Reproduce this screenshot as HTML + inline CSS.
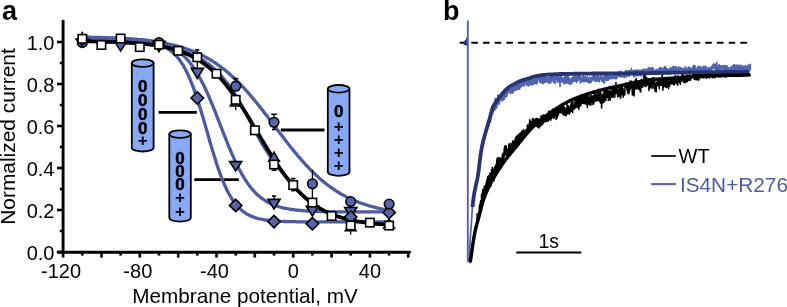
<!DOCTYPE html>
<html><head><meta charset="utf-8"><style>
html,body{margin:0;padding:0;background:#fff;}
body{width:787px;height:307px;overflow:hidden;font-family:"Liberation Sans",sans-serif;}
svg{display:block;will-change:transform;}
</style></head><body>
<svg width="787" height="307" viewBox="0 0 787 307">
<text x="2" y="20" font-size="27" font-weight="bold" font-family="Liberation Sans, sans-serif">a</text>
<line x1="63.1" y1="21.2" x2="63.1" y2="252" stroke="#000" stroke-width="2.9" stroke-linecap="round"/>
<line x1="58.2" y1="252.3" x2="409.5" y2="252.3" stroke="#000" stroke-width="2.9" stroke-linecap="round"/>
<line x1="57" y1="252" x2="63" y2="252" stroke="#000" stroke-width="2.6"/>
<line x1="59.8" y1="231" x2="63" y2="231" stroke="#000" stroke-width="2.6"/>
<line x1="57" y1="210" x2="63" y2="210" stroke="#000" stroke-width="2.6"/>
<line x1="59.8" y1="189" x2="63" y2="189" stroke="#000" stroke-width="2.6"/>
<line x1="57" y1="168" x2="63" y2="168" stroke="#000" stroke-width="2.6"/>
<line x1="59.8" y1="147" x2="63" y2="147" stroke="#000" stroke-width="2.6"/>
<line x1="57" y1="126" x2="63" y2="126" stroke="#000" stroke-width="2.6"/>
<line x1="59.8" y1="105" x2="63" y2="105" stroke="#000" stroke-width="2.6"/>
<line x1="57" y1="84" x2="63" y2="84" stroke="#000" stroke-width="2.6"/>
<line x1="59.8" y1="63" x2="63" y2="63" stroke="#000" stroke-width="2.6"/>
<line x1="57" y1="42" x2="63" y2="42" stroke="#000" stroke-width="2.6"/>
<line x1="63.1" y1="252" x2="63.1" y2="257.6" stroke="#000" stroke-width="2.6"/>
<line x1="82.3" y1="252" x2="82.3" y2="255.6" stroke="#000" stroke-width="2.6"/>
<line x1="101.5" y1="252" x2="101.5" y2="257.6" stroke="#000" stroke-width="2.6"/>
<line x1="120.6" y1="252" x2="120.6" y2="255.6" stroke="#000" stroke-width="2.6"/>
<line x1="139.8" y1="252" x2="139.8" y2="257.6" stroke="#000" stroke-width="2.6"/>
<line x1="159.0" y1="252" x2="159.0" y2="255.6" stroke="#000" stroke-width="2.6"/>
<line x1="178.2" y1="252" x2="178.2" y2="257.6" stroke="#000" stroke-width="2.6"/>
<line x1="197.3" y1="252" x2="197.3" y2="255.6" stroke="#000" stroke-width="2.6"/>
<line x1="216.5" y1="252" x2="216.5" y2="257.6" stroke="#000" stroke-width="2.6"/>
<line x1="235.7" y1="252" x2="235.7" y2="255.6" stroke="#000" stroke-width="2.6"/>
<line x1="254.8" y1="252" x2="254.8" y2="257.6" stroke="#000" stroke-width="2.6"/>
<line x1="274.0" y1="252" x2="274.0" y2="255.6" stroke="#000" stroke-width="2.6"/>
<line x1="293.2" y1="252" x2="293.2" y2="257.6" stroke="#000" stroke-width="2.6"/>
<line x1="312.4" y1="252" x2="312.4" y2="255.6" stroke="#000" stroke-width="2.6"/>
<line x1="331.6" y1="252" x2="331.6" y2="257.6" stroke="#000" stroke-width="2.6"/>
<line x1="350.7" y1="252" x2="350.7" y2="255.6" stroke="#000" stroke-width="2.6"/>
<line x1="369.9" y1="252" x2="369.9" y2="257.6" stroke="#000" stroke-width="2.6"/>
<line x1="389.1" y1="252" x2="389.1" y2="255.6" stroke="#000" stroke-width="2.6"/>
<line x1="408.2" y1="252" x2="408.2" y2="257.6" stroke="#000" stroke-width="2.6"/>
<text x="54.5" y="260.0" font-size="20" text-anchor="end" font-family="Liberation Sans, sans-serif">0.0</text>
<text x="54.5" y="218.0" font-size="20" text-anchor="end" font-family="Liberation Sans, sans-serif">0.2</text>
<text x="54.5" y="176.0" font-size="20" text-anchor="end" font-family="Liberation Sans, sans-serif">0.4</text>
<text x="54.5" y="134.0" font-size="20" text-anchor="end" font-family="Liberation Sans, sans-serif">0.6</text>
<text x="54.5" y="92.0" font-size="20" text-anchor="end" font-family="Liberation Sans, sans-serif">0.8</text>
<text x="54.5" y="50.0" font-size="20" text-anchor="end" font-family="Liberation Sans, sans-serif">1.0</text>
<text x="61.1" y="277.5" font-size="20" text-anchor="middle" font-family="Liberation Sans, sans-serif">-120</text>
<text x="137.8" y="277.5" font-size="20" text-anchor="middle" font-family="Liberation Sans, sans-serif">-80</text>
<text x="214.5" y="277.5" font-size="20" text-anchor="middle" font-family="Liberation Sans, sans-serif">-40</text>
<text x="293.2" y="277.5" font-size="20" text-anchor="middle" font-family="Liberation Sans, sans-serif">0</text>
<text x="369.9" y="277.5" font-size="20" text-anchor="middle" font-family="Liberation Sans, sans-serif">40</text>
<text x="245" y="302.6" font-size="20.7" text-anchor="middle" font-family="Liberation Sans, sans-serif">Membrane potential, mV</text>
<text transform="translate(14.6,136.5) rotate(-90)" x="0" y="0" font-size="20.9" text-anchor="middle" font-family="Liberation Sans, sans-serif">Normalized current</text>
<path d="M131.8,63.099999999999994 L131.8,147.7 A10.899999999999991,3.8 0 0 0 153.6,147.7 L153.6,63.099999999999994" fill="#88a8f8" stroke="#000" stroke-width="1.8"/><ellipse cx="142.7" cy="63.099999999999994" rx="10.899999999999991" ry="3.8" fill="#88a8f8" stroke="#000" stroke-width="1.8"/><text x="142.7" y="91.6" font-size="17" font-weight="bold" text-anchor="middle" stroke="#000" stroke-width="0.5" font-family="Liberation Sans, sans-serif">0</text><text x="142.7" y="105.8" font-size="17" font-weight="bold" text-anchor="middle" stroke="#000" stroke-width="0.5" font-family="Liberation Sans, sans-serif">0</text><text x="142.7" y="120.0" font-size="17" font-weight="bold" text-anchor="middle" stroke="#000" stroke-width="0.5" font-family="Liberation Sans, sans-serif">0</text><text x="142.7" y="134.2" font-size="17" font-weight="bold" text-anchor="middle" stroke="#000" stroke-width="0.5" font-family="Liberation Sans, sans-serif">0</text><text x="142.7" y="146.3" font-size="17" font-weight="bold" text-anchor="middle" font-family="Liberation Sans, sans-serif">+</text>
<path d="M169.3,134.10000000000002 L169.3,217.79999999999998 A10.75,3.8 0 0 0 190.8,217.79999999999998 L190.8,134.10000000000002" fill="#88a8f8" stroke="#000" stroke-width="1.8"/><ellipse cx="180.05" cy="134.10000000000002" rx="10.75" ry="3.8" fill="#88a8f8" stroke="#000" stroke-width="1.8"/><text x="180.05" y="163.5" font-size="17" font-weight="bold" text-anchor="middle" stroke="#000" stroke-width="0.5" font-family="Liberation Sans, sans-serif">0</text><text x="180.05" y="176.8" font-size="17" font-weight="bold" text-anchor="middle" stroke="#000" stroke-width="0.5" font-family="Liberation Sans, sans-serif">0</text><text x="180.05" y="190.1" font-size="17" font-weight="bold" text-anchor="middle" stroke="#000" stroke-width="0.5" font-family="Liberation Sans, sans-serif">0</text><text x="180.05" y="203.4" font-size="17" font-weight="bold" text-anchor="middle" font-family="Liberation Sans, sans-serif">+</text><text x="180.05" y="216.7" font-size="17" font-weight="bold" text-anchor="middle" font-family="Liberation Sans, sans-serif">+</text>
<path d="M327.8,88.8 L327.8,172.0 A10.849999999999994,3.8 0 0 0 349.5,172.0 L349.5,88.8" fill="#88a8f8" stroke="#000" stroke-width="1.8"/><ellipse cx="338.65" cy="88.8" rx="10.849999999999994" ry="3.8" fill="#88a8f8" stroke="#000" stroke-width="1.8"/><text x="338.65" y="117.0" font-size="17" font-weight="bold" text-anchor="middle" stroke="#000" stroke-width="0.5" font-family="Liberation Sans, sans-serif">0</text><text x="338.65" y="131.6" font-size="17" font-weight="bold" text-anchor="middle" font-family="Liberation Sans, sans-serif">+</text><text x="338.65" y="144.8" font-size="17" font-weight="bold" text-anchor="middle" font-family="Liberation Sans, sans-serif">+</text><text x="338.65" y="158.0" font-size="17" font-weight="bold" text-anchor="middle" font-family="Liberation Sans, sans-serif">+</text><text x="338.65" y="171.2" font-size="17" font-weight="bold" text-anchor="middle" font-family="Liberation Sans, sans-serif">+</text>
<line x1="158.6" y1="112.4" x2="196.8" y2="112.4" stroke="#000" stroke-width="2.8"/>
<line x1="194.3" y1="179.7" x2="238.8" y2="179.7" stroke="#000" stroke-width="2.8"/>
<line x1="280.8" y1="130" x2="324.5" y2="130" stroke="#000" stroke-width="2.8"/>
<polyline points="82.3,37.1 83.8,37.1 85.4,37.1 86.9,37.2 88.4,37.2 90.0,37.2 91.5,37.3 93.1,37.3 94.6,37.3 96.2,37.4 97.7,37.4 99.2,37.5 100.8,37.5 102.3,37.6 103.9,37.6 105.4,37.7 106.9,37.7 108.5,37.8 110.0,37.8 111.6,37.9 113.1,38.0 114.7,38.0 116.2,38.1 117.7,38.2 119.3,38.3 120.8,38.4 122.4,38.4 123.9,38.5 125.4,38.6 127.0,38.7 128.5,38.8 130.1,38.9 131.6,39.1 133.2,39.2 134.7,39.3 136.2,39.4 137.8,39.6 139.3,39.7 140.9,39.9 142.4,40.0 143.9,40.2 145.5,40.4 147.0,40.5 148.6,40.7 150.1,40.9 151.7,41.1 153.2,41.3 154.7,41.5 156.3,41.8 157.8,42.0 159.4,42.3 160.9,42.5 162.4,42.8 164.0,43.1 165.5,43.4 167.1,43.7 168.6,44.0 170.2,44.3 171.7,44.7 173.2,45.0 174.8,45.4 176.3,45.8 177.9,46.2 179.4,46.7 180.9,47.1 182.5,47.6 184.0,48.0 185.6,48.6 187.1,49.1 188.7,49.6 190.2,50.2 191.7,50.8 193.3,51.4 194.8,52.0 196.4,52.7 197.9,53.4 199.4,54.1 201.0,54.8 202.5,55.6 204.1,56.3 205.6,57.2 207.2,58.0 208.7,58.9 210.2,59.8 211.8,60.7 213.3,61.7 214.9,62.7 216.4,63.7 217.9,64.8 219.5,65.9 221.0,67.0 222.6,68.2 224.1,69.4 225.7,70.7 227.2,71.9 228.7,73.3 230.3,74.6 231.8,76.0 233.4,77.4 234.9,78.9 236.4,80.3 238.0,81.9 239.5,83.4 241.1,85.0 242.6,86.7 244.2,88.3 245.7,90.0 247.2,91.7 248.8,93.5 250.3,95.3 251.9,97.1 253.4,98.9 254.9,100.8 256.5,102.7 258.0,104.6 259.6,106.5 261.1,108.5 262.7,110.4 264.2,112.4 265.7,114.4 267.3,116.4 268.8,118.5 270.4,120.5 271.9,122.5 273.4,124.6 275.0,126.6 276.5,128.6 278.1,130.7 279.6,132.7 281.2,134.7 282.7,136.8 284.2,138.8 285.8,140.8 287.3,142.8 288.9,144.7 290.4,146.7 291.9,148.6 293.5,150.5 295.0,152.4 296.6,154.2 298.1,156.1 299.7,157.9 301.2,159.7 302.7,161.4 304.3,163.1 305.8,164.8 307.4,166.5 308.9,168.1 310.4,169.7 312.0,171.2 313.5,172.7 315.1,174.2 316.6,175.7 318.2,177.1 319.7,178.5 321.2,179.8 322.8,181.1 324.3,182.4 325.9,183.6 327.4,184.8 328.9,186.0 330.5,187.1 332.0,188.2 333.6,189.2 335.1,190.3 336.7,191.3 338.2,192.2 339.7,193.2 341.3,194.1 342.8,194.9 344.4,195.8 345.9,196.6 347.4,197.4 349.0,198.1 350.5,198.9 352.1,199.6 353.6,200.2 355.2,200.9 356.7,201.5 358.2,202.1 359.8,202.7 361.3,203.3 362.9,203.8 364.4,204.3 365.9,204.8 367.5,205.3 369.0,205.8 370.6,206.2 372.1,206.6 373.7,207.0 375.2,207.4 376.7,207.8 378.3,208.2 379.8,208.5 381.4,208.8 382.9,209.2 384.4,209.5 386.0,209.8 387.5,210.0 389.1,210.3" fill="none" stroke="#4e5b9f" stroke-width="3.3" stroke-linejoin="round" stroke-linecap="round"/>
<polyline points="82.3,38.3 83.8,38.3 85.4,38.3 86.9,38.3 88.4,38.3 90.0,38.3 91.5,38.3 93.1,38.3 94.6,38.3 96.2,38.3 97.7,38.3 99.2,38.4 100.8,38.4 102.3,38.4 103.9,38.4 105.4,38.4 106.9,38.4 108.5,38.4 110.0,38.5 111.6,38.5 113.1,38.5 114.7,38.5 116.2,38.6 117.7,38.6 119.3,38.6 120.8,38.7 122.4,38.7 123.9,38.8 125.4,38.8 127.0,38.9 128.5,39.0 130.1,39.0 131.6,39.1 133.2,39.2 134.7,39.3 136.2,39.4 137.8,39.5 139.3,39.6 140.9,39.8 142.4,39.9 143.9,40.1 145.5,40.2 147.0,40.4 148.6,40.6 150.1,40.9 151.7,41.1 153.2,41.4 154.7,41.7 156.3,42.0 157.8,42.4 159.4,42.7 160.9,43.2 162.4,43.6 164.0,44.1 165.5,44.7 167.1,45.3 168.6,45.9 170.2,46.6 171.7,47.4 173.2,48.2 174.8,49.1 176.3,50.1 177.9,51.1 179.4,52.2 180.9,53.5 182.5,54.8 184.0,56.2 185.6,57.8 187.1,59.4 188.7,61.2 190.2,63.1 191.7,65.1 193.3,67.2 194.8,69.5 196.4,71.9 197.9,74.5 199.4,77.2 201.0,80.0 202.5,83.0 204.1,86.1 205.6,89.3 207.2,92.7 208.7,96.2 210.2,99.8 211.8,103.5 213.3,107.2 214.9,111.1 216.4,115.0 217.9,118.9 219.5,122.9 221.0,126.9 222.6,130.8 224.1,134.8 225.7,138.7 227.2,142.5 228.7,146.3 230.3,150.0 231.8,153.6 233.4,157.1 234.9,160.5 236.4,163.7 238.0,166.9 239.5,169.9 241.1,172.7 242.6,175.4 244.2,178.0 245.7,180.4 247.2,182.7 248.8,184.9 250.3,186.9 251.9,188.8 253.4,190.6 254.9,192.2 256.5,193.8 258.0,195.2 259.6,196.6 261.1,197.8 262.7,198.9 264.2,200.0 265.7,201.0 267.3,201.9 268.8,202.7 270.4,203.5 271.9,204.2 273.4,204.8 275.0,205.4 276.5,206.0 278.1,206.5 279.6,207.0 281.2,207.4 282.7,207.8 284.2,208.1 285.8,208.4 287.3,208.7 288.9,209.0 290.4,209.3 291.9,209.5 293.5,209.7 295.0,209.9 296.6,210.1 298.1,210.2 299.7,210.4 301.2,210.5 302.7,210.6 304.3,210.8 305.8,210.9 307.4,211.0 308.9,211.0 310.4,211.1 312.0,211.2 313.5,211.3 315.1,211.3 316.6,211.4 318.2,211.4 319.7,211.5 321.2,211.5 322.8,211.5 324.3,211.6 325.9,211.6 327.4,211.6 328.9,211.7 330.5,211.7 332.0,211.7 333.6,211.7 335.1,211.7 336.7,211.8 338.2,211.8 339.7,211.8 341.3,211.8 342.8,211.8 344.4,211.8 345.9,211.8 347.4,211.8 349.0,211.8 350.5,211.9 352.1,211.9 353.6,211.9 355.2,211.9 356.7,211.9 358.2,211.9 359.8,211.9 361.3,211.9 362.9,211.9 364.4,211.9 365.9,211.9 367.5,211.9 369.0,211.9 370.6,211.9 372.1,211.9 373.7,211.9 375.2,211.9 376.7,211.9 378.3,211.9 379.8,211.9 381.4,211.9 382.9,211.9 384.4,211.9 386.0,211.9 387.5,211.9 389.1,211.9" fill="none" stroke="#4e5b9f" stroke-width="3.3" stroke-linejoin="round" stroke-linecap="round"/>
<polyline points="82.3,40.3 83.8,40.3 85.4,40.3 86.9,40.3 88.4,40.3 90.0,40.3 91.5,40.3 93.1,40.3 94.6,40.4 96.2,40.4 97.7,40.4 99.2,40.4 100.8,40.4 102.3,40.4 103.9,40.4 105.4,40.4 106.9,40.4 108.5,40.4 110.0,40.4 111.6,40.4 113.1,40.5 114.7,40.5 116.2,40.5 117.7,40.5 119.3,40.5 120.8,40.6 122.4,40.6 123.9,40.6 125.4,40.7 127.0,40.7 128.5,40.7 130.1,40.8 131.6,40.9 133.2,40.9 134.7,41.0 136.2,41.1 137.8,41.2 139.3,41.3 140.9,41.4 142.4,41.6 143.9,41.7 145.5,41.9 147.0,42.1 148.6,42.3 150.1,42.6 151.7,42.8 153.2,43.2 154.7,43.5 156.3,43.9 157.8,44.4 159.4,44.8 160.9,45.4 162.4,46.0 164.0,46.7 165.5,47.5 167.1,48.4 168.6,49.3 170.2,50.4 171.7,51.6 173.2,52.9 174.8,54.4 176.3,56.0 177.9,57.8 179.4,59.8 180.9,61.9 182.5,64.3 184.0,66.9 185.6,69.7 187.1,72.7 188.7,76.0 190.2,79.6 191.7,83.3 193.3,87.4 194.8,91.6 196.4,96.1 197.9,100.8 199.4,105.7 201.0,110.7 202.5,115.9 204.1,121.2 205.6,126.6 207.2,132.0 208.7,137.4 210.2,142.7 211.8,148.0 213.3,153.1 214.9,158.1 216.4,163.0 217.9,167.6 219.5,172.0 221.0,176.2 222.6,180.1 224.1,183.8 225.7,187.3 227.2,190.5 228.7,193.5 230.3,196.2 231.8,198.7 233.4,201.0 234.9,203.1 236.4,205.1 238.0,206.8 239.5,208.4 241.1,209.8 242.6,211.1 244.2,212.2 245.7,213.3 247.2,214.2 248.8,215.0 250.3,215.8 251.9,216.4 253.4,217.0 254.9,217.6 256.5,218.1 258.0,218.5 259.6,218.9 261.1,219.2 262.7,219.5 264.2,219.8 265.7,220.0 267.3,220.2 268.8,220.4 270.4,220.6 271.9,220.7 273.4,220.9 275.0,221.0 276.5,221.1 278.1,221.2 279.6,221.3 281.2,221.4 282.7,221.4 284.2,221.5 285.8,221.5 287.3,221.6 288.9,221.6 290.4,221.7 291.9,221.7 293.5,221.7 295.0,221.7 296.6,221.8 298.1,221.8 299.7,221.8 301.2,221.8 302.7,221.8 304.3,221.8 305.8,221.9 307.4,221.9 308.9,221.9 310.4,221.9 312.0,221.9 313.5,221.9 315.1,221.9 316.6,221.9 318.2,221.9 319.7,221.9 321.2,221.9 322.8,221.9 324.3,221.9 325.9,221.9 327.4,221.9 328.9,221.9 330.5,221.9 332.0,221.9 333.6,221.9 335.1,221.9 336.7,221.9 338.2,221.9 339.7,221.9 341.3,221.9 342.8,221.9 344.4,221.9 345.9,221.9 347.4,221.9 349.0,221.9 350.5,221.9 352.1,221.9 353.6,221.9 355.2,221.9 356.7,221.9 358.2,221.9 359.8,221.9 361.3,221.9 362.9,221.9 364.4,221.9 365.9,221.9 367.5,221.9 369.0,221.9 370.6,221.9 372.1,221.9 373.7,221.9 375.2,221.9 376.7,221.9 378.3,221.9 379.8,221.9 381.4,221.9 382.9,221.9 384.4,221.9 386.0,221.9 387.5,221.9 389.1,221.9" fill="none" stroke="#4e5b9f" stroke-width="3.3" stroke-linejoin="round" stroke-linecap="round"/>
<polyline points="82.3,41.3 83.3,41.3 84.3,41.3 85.4,41.4 86.4,41.4 87.4,41.4 88.4,41.4 89.5,41.4 90.5,41.4 91.5,41.4 92.5,41.5 93.6,41.5 94.6,41.5 95.6,41.5 96.6,41.5 97.7,41.6 98.7,41.6 99.7,41.6 100.7,41.6 101.8,41.6 102.8,41.7 103.8,41.7 104.8,41.7 105.9,41.7 106.9,41.8 107.9,41.8 109.0,41.8 110.0,41.9 111.0,41.9 112.0,41.9 113.1,42.0 114.1,42.0 115.1,42.0 116.1,42.1 117.2,42.1 118.2,42.2 119.2,42.2 120.2,42.2 121.3,42.3 122.3,42.3 123.3,42.4 124.3,42.4 125.4,42.5 126.4,42.5 127.4,42.6 128.4,42.7 129.5,42.7 130.5,42.8 131.5,42.9 132.6,42.9 133.6,43.0 134.6,43.1 135.6,43.2 136.7,43.2 137.7,43.3 138.7,43.4 139.7,43.5 140.8,43.6 141.8,43.7 142.8,43.8 143.8,43.9 144.9,44.0 145.9,44.1 146.9,44.2 147.9,44.3 149.0,44.5 150.0,44.6 151.0,44.7 152.0,44.9 153.1,45.0 154.1,45.2 155.1,45.3 156.2,45.5 157.2,45.6 158.2,45.8 159.2,46.0 160.3,46.1 161.3,46.2 162.3,46.4 163.3,46.5 164.4,46.7 165.4,46.8 166.4,47.0 167.4,47.2 168.5,47.4 169.5,47.6 170.5,47.8 171.5,48.0 172.6,48.2 173.6,48.5 174.6,48.7 175.6,49.0 176.7,49.2 177.7,49.5 178.7,49.8 179.8,50.1 180.8,50.4 181.8,50.7 182.8,51.0 183.9,51.4 184.9,51.7 185.9,52.1 186.9,52.5 188.0,52.9 189.0,53.3 190.0,53.7 191.0,54.1 192.1,54.6 193.1,55.0 194.1,55.5 195.1,56.0 196.2,56.5 197.2,57.0 198.2,57.5 199.2,58.1 200.3,58.7 201.3,59.3 202.3,59.9 203.4,60.5 204.4,61.2 205.4,61.9 206.4,62.6 207.5,63.3 208.5,64.1 209.5,64.9 210.5,65.7 211.6,66.5 212.6,67.4 213.6,68.3 214.6,69.2 215.7,70.2 216.7,71.1 217.7,72.1 218.7,73.1 219.8,74.2 220.8,75.3 221.8,76.5 222.8,77.7 223.9,78.9 224.9,80.2 225.9,81.5 227.0,82.8 228.0,84.1 229.0,85.5 230.0,86.8 231.1,88.2 232.1,89.7 233.1,91.3 234.1,93.0 235.2,94.6 236.2,96.3 237.2,98.0 238.2,99.8 239.3,101.5 240.3,103.3 241.3,105.1 242.3,106.9 243.4,108.7 244.4,110.6 245.4,112.6 246.4,114.5 247.5,116.5 248.5,118.5 249.5,120.5 250.6,122.5 251.6,124.5 252.6,126.5 253.6,128.4 254.7,130.3 255.7,132.1 256.7,134.0 257.7,135.9 258.8,137.7 259.8,139.6 260.8,141.4 261.8,143.3 262.9,145.1 263.9,146.7 264.9,148.3 265.9,149.9 267.0,151.5 268.0,153.1 269.0,154.7 270.0,156.3 271.1,157.8 272.1,159.4 273.1,160.7 274.2,162.1 275.2,163.4 276.2,164.8 277.2,166.1 278.3,167.4 279.3,168.6 280.3,169.9 281.3,171.1 282.4,172.4 283.4,173.7 284.4,175.0 285.4,176.3 286.5,177.5 287.5,178.8 288.5,180.0 289.5,181.2 290.6,182.4 291.6,183.7 292.6,184.9 293.6,186.0 294.7,187.2 295.7,188.3 296.7,189.5 297.8,190.5 298.8,191.6 299.8,192.6 300.8,193.7 301.9,194.6 302.9,195.6 303.9,196.5 304.9,197.5 306.0,198.4 307.0,199.2 308.0,200.1 309.0,200.9 310.1,201.7 311.1,202.5 312.1,203.3 313.1,204.0 314.2,204.7 315.2,205.4 316.2,206.1 317.2,206.8 318.3,207.4 319.3,208.0 320.3,208.6 321.4,209.2 322.4,209.8 323.4,210.3 324.4,210.9 325.5,211.4 326.5,211.9 327.5,212.4 328.5,212.8 329.6,213.3 330.6,213.7 331.6,214.2 332.6,214.6 333.7,215.0 334.7,215.4 335.7,215.8 336.7,216.1 337.8,216.5 338.8,216.8 339.8,217.1 340.8,217.5 341.9,217.8 342.9,218.1 343.9,218.3 345.0,218.6 346.0,218.9 347.0,219.2 348.0,219.4 349.1,219.7 350.1,219.9 351.1,220.1 352.1,220.3 353.2,220.5 354.2,220.7 355.2,220.9 356.2,221.1 357.3,221.3 358.3,221.5 359.3,221.7 360.3,221.8 361.4,222.0 362.4,222.1 363.4,222.3 364.4,222.4 365.5,222.6 366.5,222.7 367.5,222.8 368.6,223.0 369.6,223.1 370.6,223.2 371.6,223.3 372.7,223.4 373.7,223.5 374.7,223.6 375.7,223.7 376.8,223.8 377.8,223.9 378.8,224.0 379.8,224.1 380.9,224.1 381.9,224.2 382.9,224.3 383.9,224.4 385.0,224.4 386.0,224.5 387.0,224.6 388.0,224.6 389.1,224.7" fill="none" stroke="#4e5b9f" stroke-width="3.3" stroke-linejoin="round" stroke-linecap="round"/>
<polyline points="82.3,41.3 83.8,41.3 85.4,41.4 86.9,41.4 88.4,41.4 90.0,41.4 91.5,41.4 93.1,41.5 94.6,41.5 96.2,41.5 97.7,41.6 99.2,41.6 100.8,41.6 102.3,41.7 103.9,41.7 105.4,41.7 106.9,41.8 108.5,41.8 110.0,41.9 111.6,41.9 113.1,42.0 114.7,42.0 116.2,42.1 117.7,42.1 119.3,42.2 120.8,42.3 122.4,42.3 123.9,42.4 125.4,42.5 127.0,42.6 128.5,42.7 130.1,42.8 131.6,42.9 133.2,43.0 134.7,43.1 136.2,43.2 137.8,43.3 139.3,43.5 140.9,43.6 142.4,43.7 143.9,43.9 145.5,44.1 147.0,44.2 148.6,44.4 150.1,44.6 151.7,44.8 153.2,45.0 154.7,45.2 156.3,45.5 157.8,45.7 159.4,46.0 160.9,46.3 162.4,46.6 164.0,46.9 165.5,47.2 167.1,47.5 168.6,47.9 170.2,48.3 171.7,48.7 173.2,49.1 174.8,49.6 176.3,50.0 177.9,50.5 179.4,51.0 180.9,51.6 182.5,52.2 184.0,52.8 185.6,53.4 187.1,54.0 188.7,54.7 190.2,55.5 191.7,56.2 193.3,57.0 194.8,57.9 196.4,58.7 197.9,59.7 199.4,60.6 201.0,61.6 202.5,62.7 204.1,63.8 205.6,64.9 207.2,66.1 208.7,67.3 210.2,68.6 211.8,69.9 213.3,71.3 214.9,72.8 216.4,74.3 217.9,75.8 219.5,77.4 221.0,79.1 222.6,80.8 224.1,82.6 225.7,84.4 227.2,86.3 228.7,88.3 230.3,90.3 231.8,92.3 233.4,94.4 234.9,96.5 236.4,98.7 238.0,101.0 239.5,103.3 241.1,105.6 242.6,108.0 244.2,110.4 245.7,112.8 247.2,115.3 248.8,117.8 250.3,120.3 251.9,122.9 253.4,125.4 254.9,128.0 256.5,130.6 258.0,133.2 259.6,135.8 261.1,138.4 262.7,141.0 264.2,143.5 265.7,146.1 267.3,148.6 268.8,151.1 270.4,153.6 271.9,156.1 273.4,158.5 275.0,160.9 276.5,163.2 278.1,165.5 279.6,167.8 281.2,170.0 282.7,172.2 284.2,174.3 285.8,176.3 287.3,178.4 288.9,180.3 290.4,182.2 291.9,184.1 293.5,185.9 295.0,187.6 296.6,189.3 298.1,190.9 299.7,192.5 301.2,194.0 302.7,195.5 304.3,196.9 305.8,198.2 307.4,199.5 308.9,200.8 310.4,202.0 312.0,203.2 313.5,204.3 315.1,205.3 316.6,206.3 318.2,207.3 319.7,208.3 321.2,209.1 322.8,210.0 324.3,210.8 325.9,211.6 327.4,212.3 328.9,213.0 330.5,213.7 332.0,214.3 333.6,215.0 335.1,215.5 336.7,216.1 338.2,216.6 339.7,217.1 341.3,217.6 342.8,218.0 344.4,218.5 345.9,218.9 347.4,219.3 349.0,219.6 350.5,220.0 352.1,220.3 353.6,220.6 355.2,220.9 356.7,221.2 358.2,221.5 359.8,221.7 361.3,222.0 362.9,222.2 364.4,222.4 365.9,222.6 367.5,222.8 369.0,223.0 370.6,223.2 372.1,223.4 373.7,223.5 375.2,223.7 376.7,223.8 378.3,223.9 379.8,224.1 381.4,224.2 382.9,224.3 384.4,224.4 386.0,224.5 387.5,224.6 389.1,224.7" fill="none" stroke="#000" stroke-width="3.7" stroke-linejoin="round" stroke-linecap="round"/>
<line x1="82.3" y1="38" x2="82.3" y2="32.5" stroke="#000" stroke-width="1.3"/>
<line x1="81.3" y1="32.5" x2="83.3" y2="32.5" stroke="#000" stroke-width="1.6"/>
<line x1="197.3" y1="57" x2="197.3" y2="49.8" stroke="#000" stroke-width="1.3"/>
<line x1="195.3" y1="49.8" x2="199.3" y2="49.8" stroke="#000" stroke-width="1.6"/>
<line x1="235.7" y1="86" x2="235.7" y2="78.6" stroke="#000" stroke-width="1.3"/>
<line x1="232.9" y1="78.6" x2="238.4" y2="78.6" stroke="#000" stroke-width="1.6"/>
<line x1="235.7" y1="100" x2="235.7" y2="110" stroke="#000" stroke-width="1.3"/>
<line x1="274.0" y1="122" x2="274.0" y2="114.3" stroke="#000" stroke-width="1.3"/>
<line x1="271.3" y1="114.3" x2="276.8" y2="114.3" stroke="#000" stroke-width="1.6"/>
<line x1="274.0" y1="122" x2="274.0" y2="129.5" stroke="#000" stroke-width="1.3"/>
<line x1="272.0" y1="129.5" x2="276.0" y2="129.5" stroke="#000" stroke-width="1.6"/>
<line x1="312.4" y1="184" x2="312.4" y2="169.8" stroke="#000" stroke-width="1.3"/>
<line x1="312.4" y1="184" x2="312.4" y2="200" stroke="#000" stroke-width="1.3"/>
<line x1="197.3" y1="57" x2="197.3" y2="68" stroke="#000" stroke-width="1.3"/>
<line x1="350.7" y1="226" x2="350.7" y2="234.6" stroke="#000" stroke-width="1.3"/>
<line x1="274.0" y1="203" x2="274.0" y2="196" stroke="#000" stroke-width="1.3"/>
<line x1="272.0" y1="196" x2="276.0" y2="196" stroke="#000" stroke-width="1.6"/>
<line x1="293.2" y1="185" x2="293.2" y2="178.6" stroke="#000" stroke-width="1.3"/>
<line x1="290.9" y1="178.6" x2="295.4" y2="178.6" stroke="#000" stroke-width="1.6"/>
<line x1="293.2" y1="185" x2="293.2" y2="190.6" stroke="#000" stroke-width="1.3"/>
<line x1="290.9" y1="190.6" x2="295.4" y2="190.6" stroke="#000" stroke-width="1.6"/>
<line x1="274.0" y1="164.5" x2="274.0" y2="170.2" stroke="#000" stroke-width="1.3"/>
<line x1="271.5" y1="170.2" x2="276.5" y2="170.2" stroke="#000" stroke-width="1.6"/>
<polygon points="76.2,39.3 88.3,39.3 82.3,45.9" fill="#5864a8" stroke="#000" stroke-width="1.6" stroke-linejoin="miter"/>
<polygon points="114.6,41.3 126.7,41.3 120.6,51.1" fill="#5864a8" stroke="#000" stroke-width="1.6" stroke-linejoin="miter"/>
<polygon points="152.9,41.3 165.0,41.3 159.0,51.6" fill="#5864a8" stroke="#000" stroke-width="1.6" stroke-linejoin="miter"/>
<polygon points="191.3,68.4 203.4,68.4 197.3,78.4" fill="#5864a8" stroke="#000" stroke-width="1.6" stroke-linejoin="miter"/>
<polygon points="229.6,161.6 241.7,161.6 235.7,170.9" fill="#5864a8" stroke="#000" stroke-width="1.6" stroke-linejoin="miter"/>
<polygon points="268.0,199.4 280.1,199.4 274.0,208.9" fill="#5864a8" stroke="#000" stroke-width="1.6" stroke-linejoin="miter"/>
<polygon points="306.3,206.3 318.4,206.3 312.4,216.0" fill="#5864a8" stroke="#000" stroke-width="1.6" stroke-linejoin="miter"/>
<polygon points="344.7,207.5 356.8,207.5 350.7,217.1" fill="#5864a8" stroke="#000" stroke-width="1.6" stroke-linejoin="miter"/>
<polygon points="197.3,91.8 203.5,98.0 197.3,104.2 191.1,98.0" fill="#5864a8" stroke="#000" stroke-width="1.6"/>
<polygon points="235.7,199.2 241.9,205.4 235.7,211.6 229.5,205.4" fill="#5864a8" stroke="#000" stroke-width="1.6"/>
<polygon points="274.0,215.4 280.2,221.6 274.0,227.8 267.8,221.6" fill="#5864a8" stroke="#000" stroke-width="1.6"/>
<polygon points="312.4,217.5 318.6,223.7 312.4,229.9 306.2,223.7" fill="#5864a8" stroke="#000" stroke-width="1.6"/>
<polygon points="350.7,210.8 356.9,217.0 350.7,223.2 344.5,217.0" fill="#5864a8" stroke="#000" stroke-width="1.6"/>
<polygon points="389.1,206.3 395.3,212.5 389.1,218.7 382.9,212.5" fill="#5864a8" stroke="#000" stroke-width="1.6"/>
<circle cx="82.3" cy="42.6" r="4.8" fill="#5864a8" stroke="#000" stroke-width="1.6"/>
<circle cx="159.0" cy="42.6" r="4.8" fill="#5864a8" stroke="#000" stroke-width="1.6"/>
<circle cx="235.7" cy="86.2" r="4.8" fill="#5864a8" stroke="#000" stroke-width="1.6"/>
<circle cx="274.0" cy="122.3" r="4.8" fill="#5864a8" stroke="#000" stroke-width="1.6"/>
<circle cx="312.4" cy="183.8" r="4.8" fill="#5864a8" stroke="#000" stroke-width="1.6"/>
<circle cx="350.7" cy="201.6" r="4.8" fill="#5864a8" stroke="#000" stroke-width="1.6"/>
<circle cx="389.1" cy="204.1" r="4.8" fill="#5864a8" stroke="#000" stroke-width="1.6"/>
<polygon points="77.2,39.3 87.3,39.3 82.3,45.9" fill="#5864a8" stroke="#000" stroke-width="1.6" stroke-linejoin="miter"/>
<polygon points="230.4,106.0 241.0,106.0 235.7,96.9" fill="#5864a8" stroke="#000" stroke-width="1.6" stroke-linejoin="miter"/>
<polygon points="268.7,161.2 279.3,161.2 274.0,152.2" fill="#5864a8" stroke="#000" stroke-width="1.6" stroke-linejoin="miter"/>
<polygon points="345.4,230.7 356.0,230.7 350.7,221.4" fill="#5864a8" stroke="#000" stroke-width="1.6" stroke-linejoin="miter"/>
<polygon points="383.8,228.2 394.4,228.2 389.1,219.2" fill="#5864a8" stroke="#000" stroke-width="1.6" stroke-linejoin="miter"/>
<rect x="78.1" y="34.6" width="8.4" height="8.4" fill="#fff" stroke="#000" stroke-width="1.6"/>
<rect x="97.2" y="40.8" width="8.4" height="8.4" fill="#fff" stroke="#000" stroke-width="1.6"/>
<rect x="116.4" y="34.3" width="8.4" height="8.4" fill="#fff" stroke="#000" stroke-width="1.6"/>
<rect x="135.6" y="42.9" width="8.4" height="8.4" fill="#fff" stroke="#000" stroke-width="1.6"/>
<rect x="154.8" y="40.5" width="8.4" height="8.4" fill="#fff" stroke="#000" stroke-width="1.6"/>
<rect x="174.0" y="46.6" width="8.4" height="8.4" fill="#fff" stroke="#000" stroke-width="1.6"/>
<rect x="193.1" y="53.1" width="8.4" height="8.4" fill="#fff" stroke="#000" stroke-width="1.6"/>
<rect x="212.3" y="69.5" width="8.4" height="8.4" fill="#fff" stroke="#000" stroke-width="1.6"/>
<rect x="231.5" y="95.6" width="8.4" height="8.4" fill="#fff" stroke="#000" stroke-width="1.6"/>
<rect x="250.7" y="126.1" width="8.4" height="8.4" fill="#fff" stroke="#000" stroke-width="1.6"/>
<rect x="269.8" y="160.3" width="8.4" height="8.4" fill="#fff" stroke="#000" stroke-width="1.6"/>
<rect x="289.0" y="180.8" width="8.4" height="8.4" fill="#fff" stroke="#000" stroke-width="1.6"/>
<rect x="308.2" y="198.4" width="8.4" height="8.4" fill="#fff" stroke="#000" stroke-width="1.6"/>
<rect x="327.4" y="211.8" width="8.4" height="8.4" fill="#fff" stroke="#000" stroke-width="1.6"/>
<rect x="346.5" y="221.3" width="8.4" height="8.4" fill="#fff" stroke="#000" stroke-width="1.6"/>
<rect x="365.7" y="218.4" width="8.4" height="8.4" fill="#fff" stroke="#000" stroke-width="1.6"/>
<rect x="384.9" y="221.4" width="8.4" height="8.4" fill="#fff" stroke="#000" stroke-width="1.6"/>
<text x="443" y="19.6" font-size="27" font-weight="bold" font-family="Liberation Sans, sans-serif">b</text>
<line x1="459.6" y1="42.7" x2="466" y2="42.7" stroke="#000" stroke-width="2"/>
<line x1="471.3" y1="42.7" x2="747" y2="42.7" stroke="#000" stroke-width="2" stroke-dasharray="6.5 5.2"/>
<path d="M467,36.2 C466.6,39 465.5,40.3 464,41.2 L463.5,45 L467,45.6 Z" fill="#2b3577"/>
<line x1="467.8" y1="20.5" x2="467.8" y2="262" stroke="#56619e" stroke-width="1.9"/>
<polyline points="469.4,261.3 469.4,261.2 469.4,260.6 469.4,260.2 469.4,259.8 469.4,259.9 469.4,259.7 469.4,259.2 469.4,259.0 469.4,259.8 469.4,259.3 469.4,258.7 469.4,258.7 469.4,259.0 469.4,258.8 469.4,258.6 469.4,258.0 469.4,257.9 469.4,257.8 469.4,257.1 469.4,257.4 469.4,256.8 469.5,257.1 469.5,256.2 469.5,256.6 469.5,256.5 469.5,255.7 469.5,256.1 469.5,255.9 469.5,254.9 469.5,255.3 469.5,254.4 469.5,254.6 469.5,254.4 469.5,253.9 469.5,253.9 469.5,254.2 469.5,253.6 469.5,253.2 469.5,253.5 469.5,253.1 469.6,253.2 469.6,252.5 469.6,252.3 469.6,252.6 469.6,252.2 469.6,252.1 469.6,251.7 469.6,251.3 469.6,252.0 469.6,251.0 469.6,251.4 469.6,250.8 469.6,251.1 469.6,250.4 469.7,250.7 469.7,250.2 469.7,249.7 469.7,250.0 469.7,249.7 469.7,249.5 469.7,249.1 469.7,248.6 469.7,248.8 469.7,248.1 469.7,248.5 469.8,248.2 469.8,247.7 469.8,248.0 469.8,247.1 469.8,247.1 469.8,247.0 469.8,246.6 469.8,246.7 469.8,246.4 469.8,246.5 469.8,246.4 469.9,245.9 469.9,245.8 469.9,245.0 469.9,245.3 469.9,245.3 469.9,244.7 469.9,244.6 469.9,244.4 469.9,244.6 470.0,243.8 470.0,243.6 470.0,243.1 470.0,243.2 470.0,243.2 470.0,243.4 470.0,243.3 470.0,242.5 470.0,242.9 470.1,241.9 470.1,242.2 470.1,241.4 470.1,241.5 470.1,241.0 470.1,241.6 470.1,241.4 470.1,240.7 470.1,240.9 470.2,240.4 470.2,240.4 470.2,240.3 470.2,239.6 470.2,240.2 470.2,239.4 470.2,239.4 470.2,238.8 470.3,238.6 470.3,238.4 470.3,238.3 470.3,238.6 470.3,238.3 470.3,237.7 470.3,237.4 470.4,237.4 470.4,237.4 470.4,236.6 470.4,236.8 470.4,236.3 470.4,236.2 470.4,236.2 470.4,235.8 470.5,235.8 470.5,235.7 470.5,234.9 470.5,234.8 470.5,234.7 470.5,234.5 470.5,234.3 470.6,233.9 470.6,233.9 470.6,234.1 470.6,234.2 470.6,233.4 470.6,233.1 470.6,232.9 470.7,233.0 470.7,232.9 470.7,232.9 470.7,232.0 470.7,232.0 470.7,231.4 470.7,231.8 470.8,231.0 470.8,231.4 470.8,230.8 470.8,230.8 470.8,230.5 470.8,230.1 470.8,230.1 470.9,229.5 470.9,229.2 470.9,229.5 470.9,229.2 470.9,229.4 470.9,228.5 470.9,228.9 471.0,228.6 471.0,228.5 471.0,228.5 471.0,228.1 471.0,228.0 471.0,227.7 471.0,227.6 471.1,227.0 471.1,227.2 471.1,227.0 471.1,226.4 471.1,226.9 471.1,226.4 471.1,226.4 471.2,225.6 471.2,225.4 471.2,225.0 471.2,224.6 471.2,224.4 471.2,224.4 471.2,224.9 471.3,223.9 471.3,224.2 471.3,223.6 471.3,223.3 471.3,223.2 471.3,223.4 471.3,223.2 471.4,223.1 471.4,222.8 471.4,222.5 471.4,222.4 471.4,222.8 471.4,221.8 471.4,222.0 471.5,221.3 471.5,221.1 471.5,221.1 471.5,220.5 471.5,221.2 471.5,220.4 471.5,220.1 471.6,219.6 471.6,219.5 471.6,219.5 471.6,219.3 471.6,219.4 471.6,219.5 471.6,219.3 471.7,218.5 471.7,218.2 471.7,218.8 471.7,217.7 471.7,217.8 471.7,217.7 471.7,217.9 471.8,217.2 471.8,217.3 471.8,216.9 471.8,216.3 471.8,216.8 471.8,216.7 471.8,216.1 471.8,215.8 471.9,216.2 471.9,215.4 471.9,215.7 471.9,215.0 471.9,214.7 471.9,214.6 471.9,214.1 472.0,214.1 472.0,213.9 472.0,213.6 472.0,213.9 472.0,213.7 472.0,212.9 472.0,212.8 472.0,213.4 472.1,212.3 472.1,212.4 472.1,212.8 472.1,211.8 472.1,211.9 472.1,212.1 472.1,210.9 472.2,210.7 472.2,211.4 472.2,210.9 472.2,210.2 472.2,210.1 472.2,209.7 472.2,210.2 472.3,210.0 472.3,208.9 472.3,209.2 472.3,208.6 472.3,208.6 472.3,208.7 472.3,208.4 472.4,207.7 472.4,207.7 472.4,207.6 472.4,207.3 472.4,207.5 472.4,207.4 472.5,206.8 472.5,206.8 472.5,206.2 472.5,206.3 472.5,206.8 472.5,206.1 472.5,205.9 472.6,205.7 472.6,205.6 472.6,205.7 472.6,204.8 472.6,204.7 472.6,205.2 472.7,204.6 472.7,204.9 472.7,203.9 472.7,204.4 472.7,203.9 472.8,203.7 472.8,204.0 472.8,202.9 472.8,203.2 472.8,202.7 472.9,202.6 472.9,202.9 472.9,202.2 472.9,202.5 472.9,201.5 473.0,202.4 473.0,202.2 473.0,201.7 473.0,200.9 473.0,201.2 473.1,200.5 473.1,200.4 473.1,200.0 473.1,199.8 473.1,199.8 473.2,199.7 473.2,200.3 473.2,199.5 473.2,199.9 473.3,198.8 473.3,198.7 473.3,198.5 473.3,199.2 473.4,198.8 473.4,197.7 473.4,198.5 473.4,197.6 473.5,197.4 473.5,197.6 473.5,196.9 473.6,197.6 473.6,196.7 473.6,196.8 473.6,196.7 473.7,196.2 473.7,196.5 473.7,196.5 473.8,195.8 473.8,195.1 473.8,195.8 473.8,195.5 473.9,195.0 473.9,195.0 473.9,194.3 474.0,194.1 474.0,194.1 474.0,193.4 474.1,193.8 474.1,193.0 474.1,192.9 474.2,193.4 474.2,192.9 474.2,192.3 474.3,192.7 474.3,192.8 474.4,192.4 474.4,192.1 474.4,191.4 474.5,191.5 474.5,191.3 474.5,190.5 474.6,191.0 474.6,190.6 474.6,190.4 474.7,190.4 474.7,189.4 474.8,189.4 474.8,190.3 474.8,189.2 474.9,188.9 474.9,188.4 475.0,188.6 475.0,188.8 475.0,187.9 475.1,188.1 475.1,187.9 475.2,187.6 475.2,188.1 475.3,188.1 475.3,187.8 475.3,186.9 475.4,186.1 475.4,186.2 475.5,186.2 475.5,185.9 475.5,186.2 475.6,186.0 475.6,186.0 475.7,185.1 475.7,184.5 475.8,185.2 475.8,185.2 475.8,184.0 475.9,184.0 475.9,184.7 476.0,184.5 476.0,184.6 476.0,183.2 476.1,183.2 476.1,183.2 476.2,183.3 476.2,183.4 476.3,183.0 476.3,182.8 476.3,182.2 476.4,182.6 476.4,182.2 476.5,182.6 476.5,181.3 476.6,180.9 476.6,181.1 476.6,180.9 476.7,180.9 476.7,180.2 476.8,181.2 476.8,181.2 476.8,179.6 476.9,180.9 476.9,179.4 477.0,179.6 477.0,179.8 477.0,179.5 477.1,178.7 477.1,179.4 477.2,179.5 477.2,178.3 477.2,177.8 477.3,178.6 477.3,177.8 477.4,179.1 477.4,178.7 477.4,178.4 477.5,177.4 477.5,177.9 477.6,176.9 477.6,176.8 477.6,175.8 477.7,175.7 477.7,176.9 477.7,175.5 477.8,176.8 477.8,175.8 477.8,175.6 477.9,176.0 477.9,174.4 477.9,173.7 478.0,173.9 478.0,174.3 478.0,173.5 478.1,173.4 478.1,174.3 478.1,173.3 478.2,172.9 478.2,172.4 478.2,173.2 478.3,174.1 478.3,171.7 478.3,173.0 478.3,172.6 478.4,171.8 478.4,171.3 478.4,171.2 478.5,169.8 478.5,170.6 478.5,171.5 478.5,171.7 478.6,169.7 478.6,169.6 478.6,170.5 478.7,167.8 478.7,168.1 478.7,169.9 478.7,169.0 478.8,169.5 478.8,168.6 478.8,167.4 478.8,168.4 478.9,168.6 478.9,167.2 478.9,168.3 478.9,169.4 479.0,166.6 479.0,166.4 479.0,166.6 479.0,168.2 479.1,168.5 479.1,166.2 479.1,168.1 479.1,166.1 479.2,166.8 479.2,167.0 479.2,164.9 479.2,165.5 479.2,166.4 479.3,164.6 479.3,165.8 479.3,164.8 479.3,166.1 479.4,164.2 479.4,165.3 479.4,162.9 479.4,163.5 479.5,162.7 479.5,163.2 479.5,163.1 479.5,162.2 479.5,162.6 479.6,163.3 479.6,162.9 479.6,161.4 479.6,162.5 479.7,162.4 479.7,161.3 479.7,161.1 479.7,159.9 479.7,161.8 479.8,160.2 479.8,159.7 479.8,161.8 479.8,159.7 479.9,159.5 479.9,160.1 479.9,160.4 479.9,160.7 480.0,159.9 480.0,160.7 480.0,158.4 480.0,161.4 480.0,159.7 480.1,159.1 480.1,159.7 480.1,158.8 480.1,160.5 480.2,158.9 480.2,157.1 480.2,157.8 480.2,158.0 480.3,157.4 480.3,156.2 480.3,158.7 480.3,156.2 480.4,157.8 480.4,156.4 480.4,156.4 480.5,156.6 480.5,153.9 480.5,155.4 480.5,155.2 480.6,154.9 480.6,153.3 480.6,153.2 480.6,156.5 480.7,154.4 480.7,153.3 480.7,152.6 480.8,153.1 480.8,154.2 480.8,154.6 480.9,154.3 480.9,151.3 480.9,152.4 480.9,152.8 481.0,153.6 481.0,152.6 481.0,153.0 481.1,152.2 481.1,149.6 481.1,151.9 481.2,151.7 481.2,151.4 481.2,149.9 481.3,152.5 481.3,152.6 481.3,150.1 481.4,150.7 481.4,148.9 481.4,151.1 481.5,150.6 481.5,148.7 481.6,151.0 481.6,149.7 481.6,151.0 481.7,150.3 481.7,147.0 481.7,147.4 481.8,149.8 481.8,145.8 481.9,146.0 481.9,148.6 481.9,147.8 482.0,145.1 482.0,145.8 482.1,144.3 482.1,144.5 482.1,143.9 482.2,145.9 482.2,145.9 482.3,143.7 482.3,146.4 482.3,144.6 482.4,144.7 482.4,144.7 482.5,142.8 482.5,145.1 482.6,143.4 482.6,143.6 482.6,141.6 482.7,141.8 482.7,142.2 482.8,143.1 482.8,141.8 482.9,142.1 482.9,142.8 483.0,141.2 483.0,139.5 483.1,141.9 483.1,143.6 483.2,139.4 483.2,141.3 483.2,141.9 483.3,141.0 483.3,139.0 483.4,141.1 483.4,139.0 483.5,138.9 483.5,139.9 483.6,139.0 483.6,140.3 483.7,142.3 483.7,138.4 483.8,142.1 483.8,138.6 483.9,140.6 483.9,139.0 484.0,140.0 484.0,140.3 484.1,140.0 484.1,136.1 484.2,139.9 484.2,136.2 484.3,138.8 484.3,135.1 484.4,136.3 484.4,135.4 484.5,138.0 484.6,136.2 484.6,137.5 484.7,136.1 484.7,136.6 484.8,138.9 484.8,137.0 484.9,136.6 484.9,137.4 485.0,138.5 485.0,134.7 485.1,130.1 485.1,134.1 485.2,133.3 485.3,134.3 485.3,135.7 485.4,135.4 485.4,131.6 485.5,131.2 485.5,132.0 485.6,134.7 485.6,132.8 485.7,132.3 485.8,130.9 485.8,131.8 485.9,132.0 485.9,130.6 486.0,131.5 486.0,131.8 486.1,129.5 486.2,130.2 486.2,128.3 486.3,129.2 486.3,127.9 486.4,127.8 486.4,127.8 486.5,132.2 486.6,131.5 486.6,130.0 486.7,131.3 486.7,127.7 486.8,128.5 486.9,129.5 486.9,131.0 487.0,128.8 487.0,126.0 487.1,125.5 487.1,125.1 487.2,129.4 487.3,130.1 487.3,122.4 487.4,128.8 487.4,123.8 487.5,128.7 487.6,127.4 487.6,126.0 487.7,125.3 487.7,123.7 487.8,127.8 487.8,123.6 487.9,123.4 488.0,126.2 488.0,124.7 488.1,123.4 488.1,124.1 488.2,121.3 488.3,121.0 488.3,126.3 488.4,124.7 488.4,124.4 488.5,123.8 488.5,122.4 488.6,122.3 488.7,124.9 488.7,120.9 488.8,120.4 488.8,121.9 488.9,124.2 488.9,125.8 489.0,122.7 489.1,121.4 489.1,125.5 489.2,120.9 489.2,122.0 489.3,121.4 489.3,118.7 489.4,118.5 489.4,117.5 489.5,122.5 489.5,120.1 489.6,122.4 489.7,120.9 489.7,120.7 489.8,122.8 489.8,119.3 489.9,116.9 489.9,120.6 490.0,116.7 490.0,119.8 490.1,118.6 490.1,118.8 490.2,121.2 490.2,121.6 490.3,122.2 490.3,120.3 490.4,120.1 490.4,121.0 490.5,117.3 490.5,116.2 490.6,113.8 490.6,116.9 490.7,114.1 490.7,114.6 490.8,115.7 490.8,115.8 490.9,117.7 490.9,114.6 491.0,116.2 491.0,111.1 491.1,116.2 491.1,116.2 491.2,111.0 491.2,112.7 491.3,114.7 491.3,111.1 491.4,115.0 491.4,115.7 491.5,113.7 491.5,112.5 491.6,112.9 491.7,113.9 491.7,113.8 491.8,109.5 491.8,112.0 491.9,107.6 491.9,112.9 492.0,106.4 492.1,108.4 492.1,110.7 492.2,108.3 492.2,110.3 492.3,109.8 492.4,112.3 492.4,110.8 492.5,113.2 492.6,111.6 492.7,112.4 492.7,107.2 492.8,111.9 492.9,113.2 492.9,107.7 493.0,111.9 493.1,111.2 493.2,103.8 493.3,109.4 493.3,106.8 493.4,106.6 493.5,111.0 493.6,108.0 493.7,106.8 493.8,107.9 493.9,106.5 494.0,104.4 494.1,110.0 494.2,103.9 494.3,109.4 494.4,109.9 494.5,106.4 494.6,103.7 494.7,106.1 494.8,106.2 494.9,108.3 495.0,109.6 495.1,104.3 495.2,98.7 495.3,109.6 495.5,102.2 495.6,109.0 495.7,108.7 495.8,109.1 495.9,104.9 496.0,103.4 496.1,105.9 496.3,104.1 496.4,105.8 496.5,101.9 496.6,104.2 496.7,107.5 496.9,104.0 497.0,106.5 497.1,104.7 497.2,99.8 497.3,103.5 497.5,99.5 497.6,98.4 497.7,102.1 497.8,94.9 497.9,98.2 498.1,101.2 498.2,99.6 498.3,103.3 498.4,99.6 498.5,99.3 498.7,102.2 498.8,101.8 498.9,104.3 499.0,104.2 499.1,104.4 499.3,97.9 499.4,96.9 499.5,102.5 499.6,99.4 499.7,96.5 499.9,99.4 500.0,97.7 500.1,96.0 500.2,99.5 500.4,100.0 500.5,95.8 500.6,98.5 500.7,94.6 500.8,99.5 501.0,95.8 501.1,96.9 501.2,94.7 501.3,96.4 501.5,94.5 501.6,98.5 501.7,93.9 501.8,96.9 502.0,96.7 502.1,100.7 502.2,98.3 502.3,97.8 502.5,94.7 502.6,94.6 502.7,98.0 502.8,100.8 503.0,94.1 503.1,96.5 503.2,96.0 503.4,93.6 503.5,98.1 503.6,96.5 503.8,96.7 503.9,98.7 504.0,96.8 504.2,93.9 504.3,99.1 504.4,99.0 504.6,97.3 504.7,93.0 504.8,96.5 505.0,91.4 505.1,93.5 505.3,94.5 505.4,94.4 505.5,96.5 505.7,95.0 505.8,95.2 506.0,93.8 506.1,96.0 506.3,91.5 506.4,96.8 506.5,95.8 506.7,95.5 506.8,95.8 507.0,94.1 507.1,90.4 507.3,94.1 507.4,93.4 507.6,90.8 507.8,87.5 507.9,93.4 508.1,87.5 508.2,86.9 508.4,89.0 508.5,91.6 508.7,86.9 508.9,86.9 509.0,91.3 509.2,89.2 509.4,89.4 509.5,89.5 509.7,91.8 509.9,91.1 510.0,87.6 510.2,88.3 510.4,93.2 510.5,92.7 510.7,90.9 510.9,89.5 511.1,93.2 511.2,88.9 511.4,90.3 511.6,91.2 511.8,92.4 511.9,91.9 512.1,91.9 512.3,88.3 512.5,89.5 512.6,92.2 512.8,91.0 513.0,92.9 513.2,85.9 513.3,91.9 513.5,88.1 513.7,87.0 513.9,85.2 514.0,84.5 514.2,90.6 514.4,89.3 514.6,90.5 514.8,89.6 514.9,86.6 515.1,84.8 515.3,86.9 515.5,85.0 515.6,84.3 515.8,83.8 516.0,87.2 516.2,90.1 516.3,88.8 516.5,83.5 516.7,84.1 516.9,87.2 517.1,87.8 517.2,89.3 517.4,86.3 517.6,85.3 517.8,82.0 517.9,85.2 518.1,87.7 518.3,81.9 518.5,85.7 518.7,88.8 518.8,89.0 519.0,82.2 519.2,84.2 519.4,83.7 519.6,89.1 519.7,88.1 519.9,84.3 520.1,85.1 520.3,87.2 520.5,82.6 520.6,83.2 520.8,86.9 521.0,83.5 521.2,82.2 521.4,86.7 521.6,85.4 521.8,86.5 522.0,85.8 522.1,84.3 522.3,81.7 522.5,84.9 522.7,83.7 522.9,84.7 523.1,84.1 523.3,84.8 523.5,79.7 523.7,81.0 523.9,85.9 524.1,84.8 524.3,85.9 524.4,80.5 524.6,83.4 524.8,79.5 525.0,80.1 525.2,79.4 525.4,80.2 525.6,80.1 525.8,78.9 526.0,82.9 526.2,82.5 526.4,83.2 526.6,85.4 526.8,81.3 527.0,80.9 527.1,81.6 527.3,84.7 527.5,83.5 527.7,84.4 527.9,80.7 528.1,79.9 528.3,82.3 528.5,85.9 528.7,81.0 528.9,84.6 529.1,84.1 529.2,81.9 529.4,83.8 529.6,84.5 529.8,80.0 530.0,79.8 530.2,80.8 530.4,79.3 530.6,81.1 530.8,83.2 530.9,84.3 531.1,83.1 531.3,81.9 531.5,84.9 531.7,79.3 531.9,83.0 532.1,80.8 532.3,84.6 532.5,79.7 532.6,80.1 532.8,79.5 533.0,81.5 533.2,83.1 533.4,80.3 533.6,84.3 533.8,83.6 534.0,79.7 534.2,82.1 534.4,82.3 534.6,79.2 534.8,82.2 535.0,81.6 535.1,83.3 535.3,79.9 535.5,78.5 535.7,80.9 535.9,83.4 536.1,78.1 536.3,78.4 536.5,78.0 536.7,83.9 536.9,82.3 537.1,77.6 537.3,82.9 537.5,79.7 537.7,76.9 537.9,77.8 538.1,78.7 538.3,76.8 538.5,77.7 538.7,77.0 538.9,77.4 539.1,77.1 539.3,79.0 539.5,81.6 539.7,80.9 539.9,77.0 540.1,76.5 540.3,82.4 540.5,76.9 540.7,77.0 540.9,81.4 541.1,80.9 541.3,82.2 541.5,78.9 541.7,82.6 541.9,82.2 542.1,76.7 542.3,83.1 542.5,81.8 542.7,82.6 542.9,80.0 543.1,83.7 543.3,82.5 543.5,82.5 543.7,78.0 543.9,76.8 544.1,79.9 544.3,78.0 544.5,80.5 544.7,78.0 544.8,76.6 545.0,78.4 545.2,82.6 545.4,80.8 545.6,76.7 545.8,77.0 546.0,77.9 546.2,81.7 546.4,79.2 546.6,77.7 546.8,77.7 547.0,78.3 547.2,80.4 547.4,78.1 547.6,77.6 547.8,82.2 548.0,80.9 548.2,80.7 548.4,78.1 548.6,79.9 548.8,83.1 549.0,78.8 549.2,80.1 549.4,77.2 549.6,79.0 549.8,76.8 550.0,81.4 550.2,82.9 550.4,76.9 550.6,78.6 550.8,82.7 551.0,77.1 551.2,81.1 551.4,76.3 551.6,78.1 551.8,80.0 552.0,80.1 552.2,79.7 552.4,76.3 552.6,77.6 552.8,75.5 553.0,81.0 553.2,79.7 553.4,82.2 553.6,78.1 553.8,78.7 554.0,76.8 554.2,76.6 554.4,80.9 554.6,76.1 554.8,81.9 555.0,83.5 555.2,80.0 555.4,79.6 555.6,76.6 555.8,78.3 556.0,79.3 556.2,75.5 556.4,74.7 556.6,74.6 556.8,79.1 557.0,75.2 557.2,82.0 557.4,79.7 557.6,80.4 557.8,75.9 558.0,79.1 558.2,76.6 558.4,82.0 558.6,77.6 558.8,76.9 559.0,78.6 559.2,78.3 559.4,77.0 559.6,81.6 559.8,77.2 560.0,86.5 560.2,80.6 560.4,81.9 560.6,80.6 560.8,81.1 561.0,81.5 561.2,75.0 561.4,76.7 561.6,81.7 561.8,79.2 562.0,82.0 562.2,78.9 562.4,78.5 562.6,82.0 562.8,78.4 563.0,79.5 563.2,82.5 563.4,78.8 563.6,81.0 563.8,78.1 564.0,78.5 564.2,83.9 564.4,77.9 564.6,78.3 564.8,76.8 565.0,76.8 565.2,78.7 565.4,81.1 565.6,82.8 565.8,83.3 566.0,74.5 566.2,79.8 566.4,79.3 566.6,79.6 566.8,82.6 567.0,79.7 567.2,82.2 567.4,82.9 567.6,80.0 567.8,79.6 568.0,73.9 568.2,82.6 568.4,82.9 568.6,81.4 568.8,79.0 569.0,81.6 569.2,78.4 569.4,82.9 569.6,84.3 569.8,79.5 570.0,81.5 570.2,80.7 570.4,80.0 570.6,83.8 570.8,79.5 571.0,81.9 571.2,81.9 571.4,77.8 571.6,83.6 571.8,80.5 572.0,80.7 572.2,80.9 572.4,80.2 572.6,80.1 572.8,81.9 573.0,78.0 573.2,76.8 573.4,80.5 573.6,77.6 573.8,78.3 574.0,73.3 574.2,79.7 574.4,79.3 574.6,79.1 574.8,81.2 575.0,75.0 575.2,78.3 575.4,74.9 575.6,77.1 575.8,79.6 576.0,81.2 576.2,76.7 576.4,81.3 576.6,82.3 576.8,81.9 577.0,78.6 577.2,79.6 577.4,78.3 577.6,75.2 577.8,76.5 578.0,80.4 578.2,76.0 578.4,78.5 578.6,79.5 578.8,77.3 579.0,78.0 579.2,78.4 579.4,75.9 579.6,75.1 579.8,79.3 580.0,80.1 580.2,79.7 580.4,83.0 580.6,77.2 580.8,76.5 581.0,82.0 581.2,81.9 581.4,81.8 581.6,81.6 581.8,78.4 582.0,80.2 582.2,80.5 582.4,79.8 582.6,78.6 582.8,80.9 583.0,80.5 583.2,75.3 583.4,81.7 583.6,78.2 583.8,80.6 584.0,81.9 584.2,79.7 584.4,77.2 584.6,79.7 584.8,78.7 585.0,76.7 585.2,77.2 585.4,81.3 585.6,79.0 585.8,79.0 586.0,78.4 586.2,79.8 586.4,80.1 586.6,80.9 586.8,77.5 587.0,79.8 587.2,79.5 587.4,76.4 587.6,82.2 587.8,80.6 588.0,79.8 588.2,79.5 588.4,79.9 588.6,78.9 588.8,80.2 589.0,82.7 589.2,79.9 589.4,82.0 589.6,77.4 589.8,79.8 590.0,82.8 590.2,82.0 590.4,78.0 590.6,79.5 590.8,79.9 591.0,82.2 591.2,77.6 591.4,77.7 591.6,78.3 591.8,78.9 592.0,80.7 592.2,77.9 592.4,80.1 592.6,76.6 592.8,79.7 593.0,80.1 593.2,77.5 593.4,78.4 593.6,72.4 593.8,74.8 594.0,78.0 594.2,74.7 594.4,75.3 594.6,80.0 594.8,79.8 595.0,81.3 595.2,80.6 595.4,77.9 595.6,76.8 595.8,76.5 596.0,76.7 596.2,81.1 596.4,77.6 596.6,78.6 596.8,79.0 597.0,76.1 597.2,79.5 597.4,75.5 597.6,79.5 597.8,76.4 598.0,81.2 598.2,79.4 598.4,78.7 598.6,75.5 598.8,77.0 599.0,77.1 599.2,81.7 599.4,79.3 599.6,79.0 599.8,78.6 600.0,77.8 600.2,79.5 600.4,77.7 600.6,78.5 600.8,79.7 601.0,79.1 601.2,75.4 601.4,80.3 601.6,77.6 601.8,78.6 602.0,81.2 602.2,81.6 602.4,77.6 602.6,79.7 602.8,79.7 603.0,77.1 603.2,78.2 603.4,80.1 603.6,76.8 603.8,80.6 604.0,82.8 604.2,76.2 604.4,83.0 604.6,79.3 604.8,80.6 605.0,78.2 605.2,78.1 605.4,74.8 605.6,75.9 605.8,74.5 606.0,77.9 606.2,78.9 606.4,76.5 606.6,80.0 606.8,80.4 607.0,75.4 607.2,75.8 607.4,74.9 607.6,75.4 607.8,78.9 608.0,79.5 608.2,80.2 608.4,77.5 608.6,76.1 608.8,79.7 609.0,73.3 609.2,76.4 609.4,74.7 609.6,77.5 609.8,75.0 610.0,73.2 610.2,78.5 610.4,78.6 610.6,78.3 610.8,73.1 611.0,74.4 611.2,74.9 611.4,74.9 611.6,75.6 611.8,77.7 612.0,78.7 612.2,76.7 612.4,77.1 612.6,75.4 612.8,73.8 613.0,78.6 613.2,75.0 613.4,78.5 613.6,76.5 613.8,73.5 614.0,72.7 614.2,76.3 614.4,76.3 614.6,75.3 614.8,75.5 615.0,74.1 615.2,78.7 615.4,76.2 615.6,78.7 615.8,77.7 616.0,77.2 616.2,73.4 616.4,72.9 616.6,74.6 616.8,78.6 617.0,73.0 617.2,72.3 617.4,72.7 617.6,72.8 617.8,75.4 618.0,72.1 618.2,75.7 618.4,74.5 618.6,74.2 618.8,76.1 619.0,72.8 619.2,76.7 619.4,73.7 619.6,74.9 619.8,75.4 620.0,72.7 620.2,76.1 620.4,71.1 620.6,74.5 620.8,74.3 621.0,71.5 621.2,74.6 621.4,77.2 621.6,75.3 621.8,72.6 622.0,74.7 622.2,75.5 622.4,75.7 622.6,75.7 622.8,76.2 623.0,74.0 623.2,75.7 623.4,74.0 623.6,72.8 623.8,73.6 624.0,77.4 624.2,76.1 624.4,74.2 624.6,77.2 624.8,75.1 625.0,74.5 625.2,75.3 625.4,73.4 625.6,70.8 625.8,73.7 626.0,72.0 626.2,77.0 626.4,75.9 626.6,72.1 626.8,72.3 627.0,70.9 627.2,75.6 627.4,75.4 627.6,73.0 627.8,71.9 628.0,72.4 628.2,74.5 628.4,71.6 628.6,70.9 628.8,71.9 629.0,76.5 629.2,70.6 629.4,73.4 629.6,75.1 629.8,74.5 630.0,73.0 630.2,71.9 630.4,73.4 630.6,73.9 630.8,71.2 631.0,72.1 631.2,71.7 631.4,68.6 631.6,74.7 631.8,74.8 632.0,75.2 632.2,71.3 632.4,71.8 632.6,73.5 632.8,72.7 633.0,71.7 633.2,70.5 633.4,71.6 633.6,72.0 633.8,74.0 634.0,77.0 634.2,71.6 634.4,71.2 634.6,76.4 634.8,70.5 635.0,71.7 635.2,74.3 635.4,73.4 635.6,72.0 635.8,75.3 636.0,70.2 636.2,73.5 636.4,75.3 636.6,75.7 636.8,70.6 637.0,73.3 637.2,71.5 637.4,72.0 637.6,70.6 637.8,70.1 638.0,75.6 638.2,72.0 638.4,72.8 638.6,74.1 638.8,75.2 639.0,75.0 639.2,73.5 639.4,75.3 639.6,70.8 639.8,74.4 640.0,70.0 640.2,74.2 640.4,74.4 640.6,74.3 640.8,73.8 641.0,76.0 641.2,70.9 641.4,72.8 641.6,71.4 641.8,75.6 642.0,73.8 642.2,73.6 642.4,72.0 642.6,69.6 642.8,70.2 643.0,72.3 643.2,72.2 643.4,73.1 643.6,70.6 643.8,72.3 644.0,70.0 644.2,72.8 644.4,69.1 644.6,71.4 644.8,74.2 645.0,73.3 645.2,72.6 645.4,72.3 645.6,70.1 645.8,69.6 646.0,74.7 646.2,70.4 646.4,72.8 646.6,70.3 646.8,74.4 647.0,71.7 647.2,70.0 647.4,71.9 647.6,69.8 647.8,69.0 648.0,68.3 648.2,72.3 648.4,73.2 648.6,70.5 648.8,70.1 649.0,70.3 649.2,67.7 649.4,72.9 649.6,70.9 649.8,73.8 650.0,70.2 650.2,73.0 650.4,71.2 650.6,69.6 650.8,68.2 651.0,74.2 651.2,70.9 651.4,71.6 651.6,69.6 651.8,68.9 652.0,68.2 652.2,70.0 652.4,71.9 652.6,67.6 652.8,71.0 653.0,71.1 653.2,68.8 653.4,68.5 653.6,71.5 653.8,71.4 654.0,73.2 654.2,72.4 654.4,71.2 654.6,72.9 654.8,73.1 655.0,70.9 655.2,70.5 655.4,74.4 655.6,72.4 655.8,70.6 656.0,74.4 656.2,71.1 656.4,69.5 656.6,70.0 656.8,70.2 657.0,72.8 657.2,69.7 657.4,73.4 657.6,71.9 657.8,70.6 658.0,72.9 658.2,74.0 658.4,73.3 658.6,70.4 658.8,70.6 659.0,68.6 659.2,69.3 659.4,69.0 659.6,71.9 659.8,67.8 660.0,68.0 660.2,72.1 660.4,67.7 660.6,71.1 660.8,67.7 661.0,69.4 661.2,73.6 661.4,69.3 661.6,73.2 661.8,70.3 662.0,71.5 662.2,68.9 662.4,70.6 662.6,69.5 662.8,68.5 663.0,73.0 663.2,73.7 663.4,70.1 663.6,72.9 663.8,71.3 664.0,67.7 664.2,67.8 664.4,67.0 664.6,70.4 664.8,72.3 665.0,69.7 665.2,66.5 665.4,69.6 665.6,71.3 665.8,67.5 666.0,68.9 666.2,69.5 666.4,69.7 666.6,74.0 666.8,72.3 667.0,71.6 667.2,68.5 667.4,70.1 667.6,70.8 667.8,71.6 668.0,71.4 668.2,71.0 668.4,72.6 668.6,71.4 668.8,71.5 669.0,69.4 669.2,73.9 669.4,71.7 669.6,68.9 669.8,69.7 670.0,71.7 670.2,71.8 670.4,67.8 670.6,73.0 670.8,69.4 671.0,73.5 671.2,73.4 671.4,73.2 671.6,68.3 671.8,70.3 672.0,67.8 672.2,71.1 672.4,71.6 672.6,69.0 672.8,68.0 673.0,66.7 673.2,72.3 673.4,66.7 673.6,70.0 673.8,71.1 674.0,67.8 674.2,66.8 674.4,68.0 674.6,70.7 674.8,72.0 675.0,68.5 675.2,68.9 675.4,69.2 675.6,67.3 675.8,66.8 676.0,70.6 676.2,68.5 676.4,67.1 676.6,69.5 676.8,68.1 677.0,68.6 677.2,68.3 677.4,70.5 677.6,68.4 677.8,68.4 678.0,70.9 678.2,69.4 678.4,70.2 678.6,70.9 678.8,66.9 679.0,70.5 679.2,70.6 679.4,71.5 679.6,69.1 679.8,70.5 680.0,68.3 680.2,68.8 680.4,67.9 680.6,67.6 680.8,68.8 681.0,69.2 681.2,69.2 681.4,68.4 681.6,68.3 681.8,74.1 682.0,73.0 682.2,70.9 682.4,70.0 682.6,70.4 682.8,70.2 683.0,68.3 683.2,71.6 683.4,70.0 683.6,68.9 683.8,73.1 684.0,72.5 684.2,71.4 684.4,72.0 684.6,70.7 684.8,68.6 685.0,72.9 685.2,70.1 685.4,67.1 685.6,66.9 685.8,69.1 686.0,71.8 686.2,72.1 686.4,72.3 686.6,70.4 686.8,71.0 687.0,69.8 687.2,71.3 687.4,71.9 687.6,69.1 687.8,68.0 688.0,69.1 688.2,68.9 688.4,67.7 688.6,71.7 688.8,71.5 689.0,67.0 689.2,68.4 689.4,69.9 689.6,67.5 689.8,67.6 690.0,70.7 690.2,68.8 690.4,71.4 690.6,71.5 690.8,69.2 691.0,70.1 691.2,69.8 691.4,71.3 691.6,68.7 691.8,71.5 692.0,70.7 692.2,69.5 692.4,68.2 692.6,69.6 692.8,70.9 693.0,66.4 693.2,70.6 693.4,69.8 693.6,66.7 693.8,65.5 694.0,68.6 694.2,65.7 694.4,70.8 694.6,68.0 694.8,68.2 695.0,66.1 695.2,69.0 695.4,69.7 695.6,69.0 695.8,71.3 696.0,70.1 696.2,70.6 696.4,69.2 696.6,69.4 696.8,69.5 697.0,71.8 697.2,71.1 697.4,67.2 697.6,67.5 697.8,70.4 698.0,67.9 698.2,67.7 698.4,66.6 698.6,66.4 698.8,67.5 699.0,71.1 699.2,70.1 699.4,69.4 699.6,71.0 699.8,70.7 700.0,68.0 700.2,67.4 700.4,67.1 700.6,66.7 700.8,69.6 701.0,68.2 701.2,71.2 701.4,67.8 701.6,70.7 701.8,69.2 702.0,68.8 702.2,71.6 702.4,71.1 702.6,70.0 702.8,72.3 703.0,71.2 703.2,66.4 703.4,69.1 703.6,69.2 703.8,69.2 704.0,70.2 704.2,67.4 704.4,69.6 704.6,71.2 704.8,66.4 705.0,69.7 705.2,69.5 705.4,68.1 705.6,71.1 705.8,66.5 706.0,67.6 706.2,70.8 706.4,71.5 706.6,71.5 706.8,69.0 707.0,69.8 707.2,68.8 707.4,72.1 707.6,72.5 707.8,71.1 708.0,68.1 708.2,70.7 708.4,71.8 708.6,71.4 708.8,69.2 709.0,70.4 709.2,70.3 709.4,67.9 709.6,69.8 709.8,69.0 710.0,68.9 710.2,67.8 710.4,68.0 710.6,68.0 710.8,69.6 711.0,68.6 711.2,68.8 711.4,66.9 711.6,69.9 711.8,68.1 712.0,66.2 712.2,67.3 712.4,66.2 712.6,68.9 712.8,65.0 713.0,64.8 713.2,66.3 713.4,64.6 713.6,67.4 713.8,63.9 714.0,64.5 714.2,65.8 714.4,65.5 714.6,64.6 714.8,68.4 715.0,69.1 715.2,64.5 715.4,68.7 715.6,66.9 715.8,70.8 716.0,66.4 716.2,67.3 716.4,69.0 716.6,62.3 716.8,69.0 717.0,69.4 717.2,67.9 717.4,70.6 717.6,67.5 717.8,67.5 718.0,69.8 718.2,69.8 718.4,70.4 718.6,65.3 718.8,68.2 719.0,64.7 719.2,67.4 719.4,69.3 719.6,70.1 719.8,66.6 720.0,68.0 720.2,66.1 720.4,68.7 720.6,68.6 720.8,71.1 721.0,68.4 721.2,68.8 721.4,65.6 721.6,68.3 721.8,66.7 722.0,68.3 722.2,66.7 722.4,66.6 722.6,68.6 722.8,67.3 723.0,68.4 723.2,69.8 723.4,65.5 723.6,66.1 723.8,67.2 724.0,65.6 724.2,65.9 724.4,69.5 724.6,65.8 724.8,67.8 725.0,67.6 725.2,68.0 725.4,65.9 725.6,67.1 725.8,69.4 726.0,66.2 726.2,67.4 726.4,69.2 726.6,67.1 726.8,66.2 727.0,66.3 727.2,72.0 727.4,67.0 727.6,67.9 727.8,70.9 728.0,67.4 728.2,67.5 728.4,71.3 728.6,72.4 728.8,72.5 729.0,71.1 729.2,70.6 729.4,70.9 729.6,71.6 729.8,69.0 730.0,70.9 730.2,70.4 730.4,67.0 730.6,71.3 730.8,70.4 731.0,68.3 731.2,70.9 731.4,68.0 731.6,69.0 731.8,70.1 732.0,68.1 732.2,66.1 732.4,70.3 732.6,69.3 732.8,67.5 733.0,69.0 733.2,68.3 733.4,69.9 733.6,65.1 733.8,68.1 734.0,69.4 734.2,70.1 734.4,65.6 734.6,64.6 734.8,69.3 735.0,65.9 735.2,66.1 735.4,67.8 735.6,68.5 735.8,69.2 736.0,66.6 736.2,66.7 736.4,69.7 736.6,67.4 736.8,65.2 737.0,68.1 737.2,67.5 737.4,65.4 737.6,66.5 737.8,66.4 738.0,69.6 738.2,69.0 738.4,70.1 738.6,69.7 738.8,69.8 739.0,68.0 739.2,65.3 739.4,67.0 739.6,67.2 739.8,69.8 740.0,69.7 740.2,68.9 740.4,69.4 740.6,65.4 740.8,67.2 741.0,67.7 741.2,67.6 741.4,65.6 741.6,66.7 741.8,69.0 742.0,69.5 742.2,70.0 742.4,67.8 742.6,66.8 742.8,67.8 743.0,70.2 743.2,66.7 743.4,67.1 743.6,69.6 743.8,68.5 744.0,66.4 744.2,67.6 744.4,70.0 744.6,69.8 744.8,68.6 745.0,66.1 745.2,70.0 745.4,68.6 745.6,66.9 745.8,66.0 746.0,66.5 746.2,66.3 746.4,68.0 746.6,66.9 746.8,69.1 747.0,68.3 747.2,69.2 747.4,67.6 747.6,67.8 747.8,69.2 748.0,70.0 748.2,65.0 748.4,69.2 748.6,66.1 748.8,68.6 749.0,68.0 749.2,65.3 749.4,68.6 749.6,66.7 749.8,69.5 750.0,70.0 750.2,68.0 750.4,63.8" fill="none" stroke="#5163ad" stroke-width="1.7" stroke-linejoin="round"/>
<polyline points="470.2,263.1 470.2,261.8 470.3,262.3 470.3,262.6 470.3,262.3 470.4,262.5 470.4,262.2 470.4,262.1 470.5,259.9 470.5,260.6 470.5,260.5 470.6,259.4 470.6,259.2 470.6,260.7 470.7,260.6 470.7,260.1 470.7,258.7 470.8,259.4 470.8,258.0 470.8,258.8 470.9,257.7 470.9,258.7 470.9,259.0 471.0,259.1 471.0,258.7 471.0,258.6 471.1,257.8 471.1,257.3 471.1,258.1 471.1,255.8 471.2,256.3 471.2,256.6 471.2,256.2 471.3,256.9 471.3,255.1 471.3,254.4 471.4,254.5 471.4,256.5 471.4,254.1 471.4,254.0 471.5,254.3 471.5,254.7 471.5,254.8 471.6,252.8 471.6,255.0 471.6,254.4 471.6,253.2 471.7,252.5 471.7,253.2 471.7,252.9 471.8,252.0 471.8,251.4 471.8,252.7 471.8,252.3 471.9,252.3 471.9,250.6 471.9,251.8 472.0,249.8 472.0,249.3 472.0,249.3 472.0,250.9 472.1,250.0 472.1,250.0 472.1,249.8 472.1,249.8 472.2,248.7 472.2,249.7 472.2,247.4 472.3,248.0 472.3,247.2 472.3,247.1 472.3,249.1 472.4,248.2 472.4,248.5 472.4,248.0 472.4,247.5 472.5,247.9 472.5,247.0 472.5,246.7 472.6,246.8 472.6,246.9 472.6,245.9 472.6,246.7 472.7,245.9 472.7,246.3 472.7,245.7 472.8,246.2 472.8,245.8 472.8,243.7 472.8,245.8 472.9,245.8 472.9,244.0 472.9,245.4 473.0,245.2 473.0,243.9 473.0,242.3 473.0,244.0 473.1,244.1 473.1,242.3 473.1,241.7 473.2,243.1 473.2,242.3 473.2,240.4 473.2,240.8 473.3,240.6 473.3,241.7 473.3,241.5 473.4,241.1 473.4,240.5 473.4,240.2 473.5,240.4 473.5,240.3 473.5,240.0 473.5,240.3 473.6,241.0 473.6,240.0 473.6,239.2 473.7,240.7 473.7,237.1 473.7,240.4 473.8,238.8 473.8,238.6 473.8,239.3 473.9,238.2 473.9,239.1 473.9,237.2 474.0,237.5 474.0,237.8 474.0,236.0 474.1,237.8 474.1,235.6 474.1,235.1 474.2,235.1 474.2,236.8 474.3,235.2 474.3,233.2 474.3,233.4 474.4,234.7 474.4,232.7 474.4,233.2 474.5,232.9 474.5,234.8 474.5,232.3 474.6,233.3 474.6,233.2 474.7,234.6 474.7,231.8 474.7,230.4 474.8,231.1 474.8,230.7 474.9,231.3 474.9,229.1 474.9,230.2 475.0,230.1 475.0,229.3 475.1,231.3 475.1,228.3 475.1,230.5 475.2,227.3 475.2,227.2 475.3,229.0 475.3,228.3 475.4,230.3 475.4,229.9 475.5,226.5 475.5,226.7 475.5,228.3 475.6,229.1 475.6,225.5 475.7,229.8 475.7,226.8 475.8,228.9 475.8,226.4 475.9,229.6 475.9,227.0 476.0,225.5 476.0,228.2 476.1,229.4 476.1,226.1 476.2,227.3 476.2,226.4 476.3,229.0 476.3,228.1 476.4,225.4 476.4,228.1 476.5,222.9 476.5,224.5 476.6,224.9 476.6,225.5 476.7,224.6 476.7,222.5 476.8,225.4 476.8,226.1 476.9,224.5 476.9,221.5 477.0,223.1 477.0,219.3 477.1,218.2 477.2,213.7 477.2,223.1 477.3,223.9 477.3,218.0 477.4,220.8 477.4,217.8 477.5,221.0 477.5,216.1 477.6,218.9 477.6,220.2 477.7,221.6 477.7,219.6 477.8,220.0 477.8,217.9 477.9,216.3 478.0,220.7 478.0,214.4 478.1,219.9 478.1,216.0 478.2,213.7 478.2,214.1 478.3,217.3 478.3,215.7 478.4,213.5 478.4,214.9 478.5,218.9 478.5,217.6 478.6,214.9 478.6,213.8 478.7,218.5 478.7,214.2 478.8,215.8 478.8,216.9 478.9,214.0 479.0,214.4 479.0,212.3 479.1,215.3 479.1,213.7 479.2,210.3 479.2,213.5 479.3,207.3 479.3,208.5 479.4,212.0 479.4,206.3 479.5,214.1 479.5,205.0 479.6,212.9 479.6,206.8 479.7,212.9 479.7,209.1 479.8,211.6 479.8,209.4 479.9,208.5 479.9,210.4 480.0,214.8 480.0,213.8 480.1,207.6 480.1,205.8 480.2,205.2 480.2,203.8 480.3,203.5 480.3,209.7 480.4,204.3 480.4,201.6 480.5,208.3 480.5,202.1 480.6,203.2 480.6,208.7 480.7,210.5 480.7,205.4 480.8,205.2 480.8,200.6 480.9,206.1 480.9,203.5 481.0,206.0 481.0,201.4 481.1,203.1 481.1,208.9 481.2,203.3 481.2,208.8 481.3,206.9 481.3,200.6 481.4,203.8 481.4,204.1 481.5,202.6 481.5,194.8 481.6,201.0 481.6,204.5 481.7,201.5 481.7,200.5 481.8,200.3 481.9,199.5 481.9,200.2 482.0,200.1 482.0,203.2 482.1,194.0 482.1,200.1 482.2,193.1 482.2,192.7 482.3,202.7 482.3,198.2 482.4,195.6 482.5,199.0 482.5,196.2 482.6,199.1 482.6,199.7 482.7,200.6 482.7,189.5 482.8,193.4 482.9,190.3 482.9,195.5 483.0,194.8 483.0,192.5 483.1,189.9 483.1,193.5 483.2,190.1 483.3,197.4 483.3,194.6 483.4,189.8 483.4,197.6 483.5,191.3 483.6,194.5 483.6,196.9 483.7,192.8 483.8,191.3 483.8,195.5 483.9,196.5 484.0,197.9 484.0,190.4 484.1,193.0 484.1,195.8 484.2,188.1 484.3,186.0 484.3,195.6 484.4,190.0 484.5,195.5 484.5,194.3 484.6,193.4 484.7,196.5 484.8,187.0 484.8,190.2 484.9,188.1 485.0,187.4 485.0,188.0 485.1,188.9 485.2,186.0 485.3,190.7 485.3,195.6 485.4,191.5 485.5,187.0 485.5,186.9 485.6,194.6 485.7,188.6 485.8,185.1 485.8,194.6 485.9,195.5 486.0,190.9 486.1,183.5 486.2,184.7 486.2,190.0 486.3,190.5 486.4,190.3 486.5,192.5 486.5,181.3 486.6,191.9 486.7,186.6 486.8,183.6 486.9,188.1 486.9,188.6 487.0,180.0 487.1,179.7 487.2,188.5 487.3,189.0 487.4,189.0 487.4,177.9 487.5,184.6 487.6,181.2 487.7,185.2 487.8,176.7 487.9,185.8 487.9,176.5 488.0,179.0 488.1,177.5 488.2,185.2 488.3,177.0 488.4,175.9 488.5,177.1 488.6,177.3 488.6,178.4 488.7,179.4 488.8,175.7 488.9,179.5 489.0,178.4 489.1,175.7 489.2,180.6 489.3,182.3 489.4,176.9 489.4,177.4 489.5,179.3 489.6,181.8 489.7,180.9 489.8,183.4 489.9,173.2 490.0,176.9 490.1,178.7 490.2,178.2 490.3,185.6 490.4,174.4 490.5,174.8 490.5,185.2 490.6,174.2 490.7,186.4 490.8,178.4 490.9,184.7 491.0,182.4 491.1,181.3 491.2,175.9 491.3,180.7 491.4,172.6 491.5,170.1 491.6,172.8 491.7,175.0 491.8,169.6 491.9,174.9 492.0,175.1 492.1,177.0 492.2,175.4 492.3,167.3 492.4,177.4 492.5,167.8 492.6,174.1 492.7,168.3 492.8,173.6 492.9,169.3 493.0,178.9 493.1,179.4 493.2,170.6 493.3,169.5 493.4,176.4 493.5,176.3 493.6,177.2 493.7,172.0 493.8,180.3 493.9,169.6 494.0,172.5 494.1,180.4 494.2,171.1 494.3,171.3 494.4,177.2 494.5,170.7 494.6,176.0 494.7,166.9 494.8,169.3 494.9,175.3 495.0,173.2 495.1,175.6 495.2,175.4 495.3,166.2 495.4,167.7 495.5,167.0 495.6,165.3 495.7,165.7 495.8,171.3 495.9,166.7 496.0,172.7 496.1,164.5 496.2,166.3 496.3,170.3 496.4,165.0 496.5,168.0 496.6,168.2 496.7,169.3 496.8,159.9 496.9,167.4 497.0,160.1 497.2,158.0 497.3,158.8 497.4,165.3 497.5,160.0 497.6,165.6 497.7,164.7 497.8,161.4 497.9,169.8 498.0,159.2 498.1,167.4 498.2,162.8 498.3,162.6 498.4,165.5 498.5,162.3 498.6,166.5 498.8,157.5 498.9,161.7 499.0,167.3 499.1,158.1 499.2,165.6 499.3,163.2 499.4,159.6 499.5,163.6 499.6,158.3 499.7,157.9 499.8,162.8 499.9,161.4 500.1,158.6 500.2,160.2 500.3,160.8 500.4,159.4 500.5,158.3 500.6,159.7 500.7,167.0 500.8,158.2 500.9,165.5 501.1,162.7 501.2,167.1 501.3,160.0 501.4,159.6 501.5,167.7 501.6,164.8 501.7,164.2 501.8,163.3 502.0,164.0 502.1,158.6 502.2,163.6 502.3,155.3 502.4,158.0 502.5,157.9 502.6,157.5 502.8,153.3 502.9,154.0 503.0,159.9 503.1,160.2 503.2,158.6 503.3,157.0 503.5,153.3 503.6,155.5 503.7,159.6 503.8,160.2 503.9,154.1 504.0,157.5 504.2,147.9 504.3,151.0 504.4,152.8 504.5,155.2 504.6,155.3 504.8,149.2 504.9,145.9 505.0,152.6 505.1,152.3 505.2,153.2 505.4,145.8 505.5,154.3 505.6,153.3 505.7,153.4 505.8,150.0 506.0,150.3 506.1,153.3 506.2,152.3 506.3,146.0 506.4,156.1 506.6,151.1 506.7,150.0 506.8,157.1 506.9,148.2 507.1,155.9 507.2,150.6 507.3,152.2 507.4,157.0 507.6,152.4 507.7,157.1 507.8,155.1 507.9,156.2 508.1,157.0 508.2,152.9 508.3,153.8 508.4,150.7 508.6,150.9 508.7,147.9 508.8,143.9 508.9,147.0 509.1,153.8 509.2,148.6 509.3,151.5 509.4,150.9 509.6,149.8 509.7,144.9 509.8,145.3 509.9,150.6 510.1,152.0 510.2,153.6 510.3,147.2 510.5,143.2 510.6,152.8 510.7,149.3 510.8,148.2 511.0,144.3 511.1,144.5 511.2,144.8 511.3,151.4 511.5,150.6 511.6,146.9 511.7,151.6 511.9,151.5 512.0,143.7 512.1,150.2 512.2,146.4 512.4,149.9 512.5,148.0 512.6,141.0 512.8,142.2 512.9,151.1 513.0,141.9 513.1,146.8 513.3,147.2 513.4,149.9 513.5,143.2 513.6,147.1 513.8,141.9 513.9,141.8 514.0,148.5 514.2,140.7 514.3,146.8 514.4,147.5 514.5,143.5 514.7,142.0 514.8,146.6 514.9,140.9 515.1,147.0 515.2,138.5 515.3,141.6 515.4,141.4 515.6,138.8 515.7,137.7 515.8,139.7 516.0,137.8 516.1,138.6 516.2,136.6 516.3,142.3 516.5,139.2 516.6,145.3 516.7,139.4 516.8,139.0 517.0,141.0 517.1,135.7 517.2,138.9 517.4,136.0 517.5,135.3 517.6,135.5 517.7,138.1 517.9,135.7 518.0,138.3 518.1,142.5 518.2,136.5 518.4,135.8 518.5,139.1 518.6,138.9 518.7,141.8 518.9,138.3 519.0,142.7 519.1,134.7 519.2,133.8 519.4,142.5 519.5,139.5 519.6,135.7 519.7,141.3 519.9,133.5 520.0,137.0 520.1,137.8 520.2,134.5 520.4,137.3 520.5,135.8 520.6,139.8 520.7,137.0 520.9,140.0 521.0,133.9 521.1,132.4 521.2,135.9 521.4,137.1 521.5,135.6 521.6,131.3 521.7,133.0 521.9,132.4 522.0,141.0 522.1,136.1 522.2,137.9 522.4,138.3 522.5,130.9 522.6,131.2 522.7,136.1 522.9,132.4 523.0,131.7 523.1,131.9 523.2,130.5 523.4,132.4 523.5,131.2 523.6,131.2 523.7,129.4 523.9,133.8 524.0,134.1 524.1,130.9 524.2,132.0 524.4,131.8 524.5,133.2 524.6,132.0 524.8,131.8 524.9,136.2 525.0,135.4 525.1,131.9 525.3,134.8 525.4,134.9 525.5,135.5 525.6,135.0 525.8,130.0 525.9,130.5 526.0,134.7 526.2,133.0 526.3,133.7 526.4,133.9 526.5,131.6 526.7,129.1 526.8,132.6 526.9,132.6 527.1,131.0 527.2,128.7 527.3,125.8 527.4,125.0 527.6,130.1 527.7,127.6 527.8,127.6 528.0,131.3 528.1,126.7 528.2,127.2 528.4,126.0 528.5,128.8 528.6,129.8 528.8,125.9 528.9,127.5 529.0,128.6 529.2,123.8 529.3,126.1 529.4,128.3 529.6,120.6 529.7,119.7 529.8,122.1 530.0,123.4 530.1,120.9 530.2,121.2 530.4,123.6 530.5,127.0 530.7,122.2 530.8,124.9 530.9,127.3 531.1,126.1 531.2,123.7 531.3,127.7 531.5,127.5 531.6,122.1 531.8,128.4 531.9,126.5 532.0,120.9 532.2,123.9 532.3,119.6 532.5,118.6 532.6,123.7 532.7,120.6 532.9,125.5 533.0,119.9 533.2,125.2 533.3,119.6 533.5,119.1 533.6,121.3 533.7,125.7 533.9,119.0 534.0,122.1 534.2,122.8 534.3,123.5 534.5,124.9 534.6,124.5 534.8,122.0 534.9,121.9 535.0,125.3 535.2,123.9 535.3,123.4 535.5,119.3 535.6,122.7 535.8,126.0 535.9,122.7 536.1,122.0 536.2,123.5 536.4,118.6 536.5,120.2 536.7,118.9 536.8,125.1 537.0,126.1 537.1,126.2 537.3,121.0 537.4,127.0 537.6,119.9 537.7,118.5 537.9,119.0 538.0,122.1 538.2,121.7 538.3,120.3 538.5,126.9 538.6,120.6 538.8,127.9 538.9,120.8 539.1,123.4 539.2,127.2 539.4,118.9 539.5,120.6 539.7,122.0 539.8,120.0 540.0,123.2 540.1,122.4 540.3,124.1 540.5,126.5 540.6,124.6 540.8,125.0 540.9,121.9 541.1,115.7 541.2,117.5 541.4,124.7 541.5,117.4 541.7,118.6 541.8,120.7 542.0,117.3 542.2,125.0 542.3,116.2 542.5,121.4 542.6,124.5 542.8,115.4 542.9,117.2 543.1,115.7 543.3,115.1 543.4,123.0 543.6,121.3 543.7,117.6 543.9,120.5 544.0,114.8 544.2,122.2 544.4,118.1 544.5,116.2 544.7,118.8 544.8,119.2 545.0,117.6 545.2,117.9 545.3,120.5 545.5,118.4 545.6,121.6 545.8,118.0 546.0,119.9 546.1,117.3 546.3,118.2 546.4,115.9 546.6,121.3 546.8,118.3 546.9,118.3 547.1,118.0 547.2,121.3 547.4,118.0 547.6,120.4 547.7,117.0 547.9,114.1 548.1,118.1 548.2,119.1 548.4,121.0 548.5,112.0 548.7,119.8 548.9,113.6 549.0,111.1 549.2,115.4 549.4,114.9 549.5,113.3 549.7,119.0 549.8,114.7 550.0,116.1 550.2,112.4 550.3,120.0 550.5,117.2 550.7,113.4 550.8,120.3 551.0,116.2 551.1,112.9 551.3,112.4 551.5,118.4 551.6,111.4 551.8,118.0 552.0,117.0 552.1,111.2 552.3,113.1 552.5,114.7 552.6,113.2 552.8,117.1 553.0,110.1 553.1,108.9 553.3,109.5 553.5,112.9 553.6,112.2 553.8,117.0 554.0,118.3 554.1,117.4 554.3,116.7 554.4,109.7 554.6,113.4 554.8,112.2 554.9,113.7 555.1,115.0 555.3,108.7 555.4,113.1 555.6,110.7 555.8,116.3 556.0,113.8 556.1,119.4 556.3,117.6 556.5,110.4 556.6,109.2 556.8,116.7 557.0,115.3 557.1,118.0 557.3,110.9 557.5,117.1 557.6,116.5 557.8,115.2 558.0,111.0 558.1,109.6 558.3,112.7 558.5,110.8 558.6,114.7 558.8,108.1 559.0,107.0 559.2,108.4 559.3,108.4 559.5,112.3 559.7,111.9 559.8,109.1 560.0,107.9 560.2,109.2 560.4,110.3 560.5,108.3 560.7,113.0 560.9,107.6 561.0,106.5 561.2,111.2 561.4,111.7 561.6,109.6 561.7,105.0 561.9,106.7 562.1,108.8 562.2,111.2 562.4,113.6 562.6,106.5 562.8,105.8 562.9,104.7 563.1,111.3 563.3,107.7 563.5,115.1 563.6,106.9 563.8,107.6 564.0,108.6 564.2,113.7 564.3,107.0 564.5,113.9 564.7,112.1 564.9,113.3 565.0,115.3 565.2,108.3 565.4,115.2 565.6,113.6 565.7,115.6 565.9,115.0 566.1,115.7 566.3,112.5 566.4,110.0 566.6,114.6 566.8,112.8 567.0,104.1 567.1,107.8 567.3,105.3 567.5,113.8 567.7,105.8 567.9,106.6 568.0,105.7 568.2,113.3 568.4,105.7 568.6,112.2 568.7,110.2 568.9,112.1 569.1,106.5 569.3,106.7 569.5,114.2 569.6,108.6 569.8,107.6 570.0,112.6 570.2,112.0 570.4,106.7 570.6,110.0 570.7,108.0 570.9,104.2 571.1,103.6 571.3,109.8 571.5,111.4 571.6,105.1 571.8,102.4 572.0,110.9 572.2,101.5 572.4,102.7 572.6,104.1 572.7,112.5 572.9,101.9 573.1,107.2 573.3,107.8 573.5,107.4 573.6,104.9 573.8,108.3 574.0,109.0 574.2,107.9 574.4,108.9 574.6,108.1 574.8,104.1 574.9,101.3 575.1,102.0 575.3,108.0 575.5,106.7 575.7,104.3 575.9,102.7 576.0,100.5 576.2,102.7 576.4,107.0 576.6,102.8 576.8,99.7 577.0,107.6 577.2,99.1 577.4,100.0 577.5,103.1 577.7,99.4 577.9,107.0 578.1,105.2 578.3,98.8 578.5,101.7 578.7,106.7 578.8,109.2 579.0,98.7 579.2,106.1 579.4,101.3 579.6,97.5 579.8,106.4 580.0,100.2 580.2,102.5 580.3,104.7 580.5,98.3 580.7,98.1 580.9,105.4 581.1,103.1 581.3,94.5 581.5,102.6 581.7,102.5 581.9,103.1 582.0,98.7 582.2,97.1 582.4,96.8 582.6,103.2 582.8,97.3 583.0,97.9 583.2,101.4 583.4,103.5 583.6,100.5 583.7,96.6 583.9,96.2 584.1,97.9 584.3,94.2 584.5,97.4 584.7,103.7 584.9,99.7 585.1,95.5 585.3,97.8 585.5,101.2 585.6,103.8 585.8,100.5 586.0,99.6 586.2,103.6 586.4,104.2 586.6,95.7 586.8,96.0 587.0,103.4 587.2,105.7 587.4,107.3 587.5,97.1 587.7,96.8 587.9,98.4 588.1,95.6 588.3,96.2 588.5,104.2 588.7,98.8 588.9,98.9 589.1,103.1 589.3,100.1 589.5,97.6 589.6,98.9 589.8,104.9 590.0,102.3 590.2,95.5 590.4,104.0 590.6,99.0 590.8,96.1 591.0,104.9 591.2,98.6 591.4,97.7 591.6,100.3 591.8,95.4 591.9,99.3 592.1,98.8 592.3,101.7 592.5,99.5 592.7,96.8 592.9,104.4 593.1,102.6 593.3,102.6 593.5,95.8 593.7,103.9 593.9,102.3 594.1,99.3 594.2,99.0 594.4,95.0 594.6,93.7 594.8,100.6 595.0,99.5 595.2,100.9 595.4,93.1 595.6,93.8 595.8,101.3 596.0,101.0 596.2,96.2 596.4,96.6 596.6,99.9 596.7,94.6 596.9,98.4 597.1,100.4 597.3,97.2 597.5,98.2 597.7,91.3 597.9,92.8 598.1,90.2 598.3,89.2 598.5,101.0 598.7,89.6 598.9,90.3 599.1,98.3 599.2,95.2 599.4,95.8 599.6,96.9 599.8,100.6 600.0,95.3 600.2,101.3 600.4,102.9 600.6,91.4 600.8,99.6 601.0,99.7 601.2,99.8 601.4,99.1 601.6,108.1 601.8,101.9 601.9,101.1 602.1,103.2 602.3,94.2 602.5,96.6 602.7,96.1 602.9,95.3 603.1,96.6 603.3,102.6 603.5,98.8 603.7,99.8 603.9,90.8 604.1,102.1 604.3,89.5 604.5,98.9 604.7,89.1 604.9,94.1 605.0,92.7 605.2,89.1 605.4,91.9 605.6,95.4 605.8,100.8 606.0,95.1 606.2,96.1 606.4,96.3 606.6,89.5 606.8,96.2 607.0,93.6 607.2,90.0 607.4,93.6 607.6,97.6 607.8,91.3 608.0,97.1 608.2,92.9 608.4,100.4 608.5,91.1 608.7,97.4 608.9,100.2 609.1,92.2 609.3,98.8 609.5,91.2 609.7,95.3 609.9,91.9 610.1,89.8 610.3,100.1 610.5,92.1 610.7,96.0 610.9,97.3 611.1,93.4 611.3,97.2 611.5,96.7 611.7,93.9 611.9,93.9 612.1,88.1 612.3,91.2 612.4,97.3 612.6,90.7 612.8,89.4 613.0,96.0 613.2,86.8 613.4,96.9 613.6,86.7 613.8,92.7 614.0,87.1 614.2,94.9 614.4,89.0 614.6,93.8 614.8,97.1 615.0,94.0 615.2,86.6 615.4,93.3 615.6,91.6 615.8,86.7 616.0,82.4 616.2,90.4 616.4,86.7 616.6,88.2 616.8,93.5 616.9,88.2 617.1,86.8 617.3,94.5 617.5,91.1 617.7,96.9 617.9,92.7 618.1,96.4 618.3,90.6 618.5,92.5 618.7,89.6 618.9,92.7 619.1,87.3 619.3,94.7 619.5,89.1 619.7,96.2 619.9,90.2 620.1,91.3 620.3,87.1 620.5,98.3 620.7,89.7 620.9,96.1 621.1,92.1 621.3,87.4 621.5,89.8 621.7,91.3 621.8,92.6 622.0,87.3 622.2,89.7 622.4,94.4 622.6,88.0 622.8,88.3 623.0,88.2 623.2,97.3 623.4,95.3 623.6,92.6 623.8,93.3 624.0,95.3 624.2,94.7 624.4,90.4 624.6,91.8 624.8,94.7 625.0,84.0 625.2,84.5 625.4,83.8 625.6,86.9 625.8,87.1 626.0,82.7 626.2,86.5 626.4,83.4 626.6,88.0 626.8,86.5 626.9,89.7 627.1,89.3 627.3,91.1 627.5,86.1 627.7,93.1 627.9,83.5 628.1,86.6 628.3,83.2 628.5,89.4 628.7,93.7 628.9,93.8 629.1,90.2 629.3,91.6 629.5,90.7 629.7,89.6 629.9,80.9 630.1,89.3 630.3,82.9 630.5,85.4 630.7,83.3 630.9,87.5 631.1,81.6 631.3,84.8 631.5,83.0 631.7,80.9 631.8,88.3 632.0,85.6 632.2,92.1 632.4,94.9 632.6,94.3 632.8,89.2 633.0,82.8 633.2,94.4 633.4,85.4 633.6,86.8 633.8,87.3 634.0,96.0 634.2,94.3 634.4,87.7 634.6,89.0 634.8,87.3 635.0,80.5 635.2,79.9 635.4,87.4 635.6,82.5 635.8,84.3 636.0,89.2 636.2,78.6 636.3,78.6 636.5,86.9 636.7,88.0 636.9,87.8 637.1,84.2 637.3,83.0 637.5,82.9 637.7,87.0 637.9,85.0 638.1,89.2 638.3,83.8 638.5,85.4 638.7,82.5 638.9,85.2 639.1,85.6 639.3,87.9 639.5,82.9 639.7,89.9 639.9,90.0 640.1,91.1 640.3,82.5 640.5,82.5 640.7,91.9 640.9,84.1 641.1,88.0 641.2,82.3 641.4,79.2 641.6,82.0 641.8,85.8 642.0,82.8 642.2,86.9 642.4,81.8 642.6,84.8 642.8,87.3 643.0,80.7 643.2,84.6 643.4,80.9 643.6,79.2 643.8,76.1 644.0,83.0 644.2,82.0 644.4,74.6 644.6,86.0 644.8,85.4 645.0,85.9 645.2,75.7 645.4,80.5 645.6,86.5 645.8,79.2 646.0,81.0 646.2,78.3 646.4,77.5 646.6,85.9 646.8,79.4 647.0,83.2 647.2,85.0 647.4,82.9 647.5,82.2 647.7,78.5 647.9,79.4 648.1,84.4 648.3,84.5 648.5,83.3 648.7,79.3 648.9,90.4 649.1,85.9 649.3,82.3 649.5,86.8 649.7,88.0 649.9,86.7 650.1,84.1 650.3,85.5 650.5,82.3 650.7,83.0 650.9,80.5 651.1,88.0 651.3,78.6 651.5,85.2 651.7,85.9 651.9,81.5 652.1,82.9 652.3,83.0 652.5,78.8 652.7,77.6 652.9,88.4 653.1,87.7 653.3,79.2 653.5,78.1 653.7,78.3 653.9,78.6 654.1,80.5 654.3,78.3 654.5,83.3 654.7,80.1 654.9,91.1 655.1,84.6 655.3,88.8 655.5,87.2 655.7,86.4 655.9,89.1 656.1,91.9 656.3,86.9 656.5,82.3 656.7,86.2 656.9,83.4 657.1,85.3 657.3,83.9 657.5,85.6 657.7,80.3 657.9,83.3 658.1,81.4 658.3,85.2 658.5,80.0 658.7,79.9 658.9,81.8 659.1,86.7 659.3,88.7 659.5,81.8 659.7,84.1 659.9,78.9 660.1,85.2 660.3,79.1 660.5,84.3 660.7,84.7 660.9,80.8 661.1,83.8 661.3,78.2 661.5,85.4 661.7,78.6 661.9,77.8 662.1,78.7 662.3,72.7 662.5,81.4 662.7,80.6 662.9,90.2 663.1,79.2 663.3,84.9 663.5,87.4 663.7,83.3 663.9,86.0 664.1,84.8 664.3,86.3 664.5,86.0 664.7,81.2 664.9,77.5 665.1,77.4 665.3,85.8 665.5,83.5 665.7,84.7 665.9,87.4 666.1,85.6 666.3,85.2 666.5,80.9 666.7,80.3 666.9,82.4 667.1,87.0 667.3,83.3 667.5,86.8 667.7,86.8 667.9,78.9 668.1,80.2 668.3,84.7 668.5,88.7 668.7,83.4 668.9,84.3 669.1,83.6 669.3,84.7 669.5,86.4 669.7,81.1 669.9,85.3 670.1,78.8 670.3,82.4 670.5,80.5 670.7,77.8 670.9,81.1 671.1,83.1 671.3,81.2 671.5,81.0 671.7,83.9 671.9,82.0 672.1,82.2 672.3,79.8 672.5,81.0 672.7,83.6 672.9,80.5 673.1,81.3 673.3,84.4 673.5,84.7 673.7,80.2 673.9,78.4 674.1,81.5 674.3,76.5 674.5,84.8 674.7,78.7 674.9,81.1 675.1,83.1 675.3,75.7 675.5,80.0 675.7,77.9 675.9,78.8 676.1,78.3 676.3,81.7 676.5,83.2 676.7,82.2 676.9,78.6 677.1,81.2 677.3,75.9 677.5,84.6 677.7,85.1 677.9,78.2 678.1,82.9 678.3,76.3 678.5,81.5 678.7,79.7 678.9,80.8 679.1,78.0 679.3,81.2 679.5,82.3 679.7,79.8 679.9,80.4 680.1,76.9 680.3,84.4 680.5,77.9 680.7,81.3 680.9,80.4 681.1,79.6 681.3,77.2 681.5,80.9 681.7,76.6 681.9,81.4 682.1,75.0 682.3,74.4 682.5,75.4 682.7,74.5 682.9,79.2 683.1,74.3 683.3,79.0 683.5,79.1 683.7,80.6 683.8,82.1 684.0,78.6 684.2,81.0 684.4,82.6 684.6,76.6 684.8,78.0 685.0,82.4 685.2,78.4 685.4,76.2 685.6,76.3 685.8,82.5 686.0,81.3 686.2,76.1 686.4,81.2 686.6,80.2 686.8,74.9 687.0,77.2 687.2,78.3 687.4,76.4 687.6,81.6 687.8,77.9 688.0,80.3 688.2,75.6 688.4,79.7 688.6,77.1 688.8,78.4 689.0,75.7 689.2,80.3 689.4,75.7 689.6,75.2 689.8,79.1 690.0,74.7 690.2,78.1 690.4,80.2 690.6,79.4 690.8,76.0 691.0,76.3 691.2,78.7 691.4,77.8 691.6,76.8 691.8,75.8 692.0,75.5 692.2,75.8 692.4,76.4 692.6,77.1 692.8,72.6 693.0,75.2 693.2,77.7 693.4,74.9 693.6,76.1 693.8,73.3 694.0,74.9 694.2,75.8 694.4,79.4 694.6,76.3 694.8,79.0 695.0,74.7 695.2,75.1 695.4,73.9 695.6,75.9 695.8,76.3 696.0,79.7 696.2,77.7 696.4,79.2 696.6,78.5 696.8,76.6 697.0,79.7 697.2,74.3 697.4,77.3 697.6,78.8 697.8,74.6 698.0,78.6 698.2,78.3 698.4,78.3 698.6,80.2 698.8,78.0 699.0,74.9 699.2,78.6 699.4,75.7 699.6,78.6 699.8,74.3 700.0,76.1 700.2,74.3 700.4,74.0 700.6,77.1 700.8,77.4 701.0,74.2 701.2,75.7 701.4,77.5 701.6,77.6 701.8,76.5 702.0,76.0 702.2,76.6 702.4,74.7 702.6,75.8 702.8,75.3 703.0,77.4 703.2,77.5 703.4,77.5 703.6,77.5 703.8,77.9 704.0,77.5 704.2,76.7 704.4,75.0 704.6,75.2 704.8,74.7 705.0,76.0 705.2,75.8 705.4,75.5 705.6,75.5 705.8,76.1 706.0,76.8 706.2,78.3 706.4,75.4 706.6,77.9 706.8,74.9 707.0,74.9 707.2,77.3 707.4,77.1 707.6,77.6 707.8,75.5 708.0,75.6 708.2,75.6 708.4,75.7 708.6,76.4 708.8,76.0 709.0,74.8 709.2,75.9 709.4,77.9 709.6,77.8 709.8,76.8 710.0,75.7 710.2,75.5 710.4,76.4 710.6,75.8 710.8,75.6 711.0,76.4 711.2,74.5 711.4,74.4 711.6,75.9 711.8,77.3 712.0,74.7 712.2,75.7 712.4,74.4 712.6,77.8 712.8,77.4 713.0,77.2 713.2,76.5 713.4,77.1 713.6,76.5 713.8,76.3 714.0,77.4 714.2,77.7 714.4,74.9 714.6,75.2 714.8,76.7 715.0,76.3 715.2,77.5 715.4,75.9 715.6,76.1 715.8,75.8 716.0,75.6 716.2,74.9 716.4,75.5 716.6,76.8 716.8,74.9 717.0,74.9 717.2,74.5 717.4,75.6 717.6,74.7 717.8,76.1 718.0,76.3 718.2,76.5 718.4,76.3 718.6,77.1 718.8,75.4 719.0,77.1 719.2,76.6 719.4,75.1 719.6,74.6 719.8,76.4 720.0,76.3 720.2,75.5 720.4,76.4 720.6,77.0 720.8,76.0 721.0,74.7 721.2,76.8 721.4,75.6 721.6,75.9 721.8,75.0 722.0,75.7 722.2,75.1 722.4,75.0 722.6,74.5 722.8,76.7 723.0,76.7 723.2,74.3 723.4,75.4 723.6,74.2 723.8,76.4 724.0,75.7 724.2,75.3 724.4,76.4 724.6,74.7 724.8,76.4 725.0,75.7 725.2,76.6 725.4,77.0 725.6,76.0 725.8,76.9 726.0,76.0 726.2,77.0 726.4,75.0 726.6,75.2 726.8,75.9 727.0,75.3 727.2,75.6 727.4,76.1 727.6,74.8 727.8,75.9 728.0,74.7 728.2,74.4 728.4,75.6 728.6,74.3 728.8,75.7 729.0,75.2 729.2,76.5 729.4,74.7 729.6,74.5 729.8,75.8 730.0,74.0 730.2,75.2 730.4,74.4 730.6,74.8 730.8,75.3 731.0,74.3 731.2,74.7 731.4,73.7 731.6,75.8 731.8,74.6 732.0,74.2 732.2,73.9 732.4,75.9 732.6,76.0 732.8,75.3 733.0,75.2 733.2,76.0 733.4,75.9 733.6,74.5 733.8,75.8 734.0,75.2 734.2,76.4 734.4,75.8 734.6,74.8 734.8,74.8 735.0,74.6 735.2,75.1 735.4,75.7 735.6,75.8 735.8,75.1 736.0,76.0 736.2,76.2 736.4,75.9 736.6,75.5 736.8,76.4 737.0,75.0 737.2,76.2 737.4,75.6 737.6,75.5 737.8,76.3 738.0,75.3 738.2,76.1 738.4,75.0 738.6,76.1 738.8,75.6 739.0,75.1 739.2,74.8 739.4,74.8 739.6,76.4 739.8,75.3 740.0,75.5 740.2,75.9 740.4,76.1 740.6,75.8 740.8,75.2 741.0,75.3 741.2,75.1 741.4,74.8 741.6,75.5 741.8,75.0 742.0,74.9 742.2,75.9 742.4,74.6 742.6,75.8 742.8,75.3 743.0,75.6 743.2,75.7 743.4,75.1 743.6,76.3 743.8,75.0 744.0,74.9 744.2,75.4 744.4,74.6 744.6,75.0 744.8,75.8 745.0,74.8 745.2,75.2 745.4,75.7 745.6,75.1 745.8,75.0 746.0,74.6 746.2,75.3 746.4,74.9 746.6,75.1 746.8,74.7 747.0,74.2 747.2,74.3 747.4,74.8 747.6,74.4 747.8,74.6 748.0,74.7 748.2,74.7 748.4,74.5 748.6,75.3 748.8,74.4 749.0,74.0 749.2,75.6 749.4,75.0 749.6,74.8 749.8,74.9 750.0,74.7 750.2,75.4 750.4,74.8" fill="none" stroke="#000" stroke-width="1.5" stroke-linejoin="round"/>
<polyline points="472.6,207.1 472.6,206.1 472.7,205.1 472.8,204.1 472.9,203.1 473.0,202.1 473.1,201.1 473.3,200.1 473.4,199.1 473.5,198.1 473.7,197.1 473.8,196.2 474.0,195.2 474.1,194.2 474.3,193.2 474.5,192.2 474.7,191.2 474.9,190.3 475.1,189.3 475.3,188.3 475.5,187.3 475.7,186.3 475.9,185.4 476.1,184.4 476.3,183.4 476.6,182.4 476.8,181.5 477.0,180.5 477.2,179.5 477.4,178.5 477.6,177.5 477.7,176.5 477.9,175.6 478.1,174.6 478.2,173.6 478.4,172.6 478.5,171.6 478.7,170.6 478.8,169.6 478.9,168.6 479.0,167.7 479.2,166.7 479.3,165.7 479.4,164.7 479.5,163.7 479.6,162.7 479.7,161.7 479.8,160.7 480.0,159.7 480.1,158.7 480.2,157.7 480.3,156.7 480.5,155.7 480.6,154.7 480.7,153.7 480.9,152.8 481.0,151.8 481.2,150.8 481.4,149.8 481.6,148.8 481.7,147.8 481.9,146.8 482.1,145.9 482.3,144.9 482.6,143.9 482.8,142.9 483.0,142.0 483.2,141.0 483.5,140.0 483.7,139.0 484.0,138.1 484.2,137.1 484.5,136.1 484.8,135.2 485.0,134.2 485.3,133.3 485.6,132.3 485.9,131.3 486.2,130.4 486.4,129.4 486.7,128.5 487.0,127.5 487.3,126.6 487.6,125.6 487.9,124.7 488.2,123.7 488.5,122.7 488.8,121.8 489.1,120.8 489.3,119.9 489.6,118.9 489.9,117.9 490.1,117.0 490.4,116.0 490.6,115.0 490.9,114.0 491.1,113.0 491.4,112.1 491.7,111.1 491.9,110.1 492.2,109.2 492.6,108.2 492.9,107.3 493.3,106.4 493.8,105.5 494.3,104.7 494.8,103.8 495.3,103.0 495.9,102.1 496.5,101.3 497.1,100.5 497.7,99.7 498.3,98.9 498.9,98.1 499.5,97.3 500.1,96.5 500.7,95.7 501.3,95.0 502.0,94.2 502.6,93.4 503.2,92.6 503.9,91.9 504.6,91.1 505.3,90.4 506.0,89.7 506.7,89.0 507.4,88.3 508.2,87.7 509.0,87.1 509.9,86.6 510.7,86.0 511.6,85.5 512.5,85.1 513.3,84.6 514.2,84.1 515.1,83.6 516.0,83.1 516.9,82.7 517.8,82.2 518.7,81.7 519.6,81.3 520.5,80.9 521.4,80.6 522.3,80.2 523.3,79.9 524.3,79.7 525.2,79.4 526.2,79.1 527.1,78.8 528.1,78.5 529.1,78.2 530.0,77.9 530.9,77.6 531.9,77.3 532.8,76.9 533.8,76.7 534.8,76.4 535.7,76.2 536.7,76.0 537.7,75.8 538.7,75.6 539.7,75.5 540.7,75.3 541.7,75.2 542.7,75.1 543.7,75.0 544.7,74.9 545.6,74.8 546.6,74.7 547.6,74.7 548.6,74.6 549.6,74.5 550.6,74.5 551.6,74.4 552.6,74.3 553.6,74.3 554.6,74.2 555.6,74.2 556.6,74.2 557.6,74.1 558.6,74.1 559.6,74.0 560.6,74.0 561.6,74.0 562.6,74.0 563.6,73.9 564.6,73.9 565.6,73.9 566.6,73.9 567.6,73.8 568.6,73.8 569.6,73.8 570.6,73.8 571.6,73.8 572.6,73.8 573.6,73.7 574.6,73.7 575.6,73.7 576.6,73.7 577.6,73.7 578.6,73.7 579.6,73.7 580.6,73.7 581.6,73.6 582.6,73.6 583.6,73.6 584.6,73.6 585.6,73.6 586.6,73.6 587.6,73.6 588.6,73.6 589.6,73.6 590.6,73.6 591.6,73.6 592.6,73.5 593.6,73.5 594.6,73.5 595.6,73.5 596.6,73.5 597.6,73.5 598.6,73.5 599.6,73.5 600.6,73.5 601.6,73.5 602.6,73.5 603.6,73.5 604.6,73.5 605.6,73.5 606.6,73.5 607.6,73.5 608.6,73.4 609.6,73.4 610.6,73.4 611.6,73.4 612.6,73.4 613.6,73.4 614.6,73.4 615.6,73.4 616.6,73.4 617.6,73.4 618.6,73.4 619.6,73.4 620.6,73.4 621.6,73.4 622.6,73.4 623.6,73.3 624.6,73.3 625.6,73.3 626.6,73.3 627.6,73.3 628.6,73.3 629.6,73.3 630.6,73.3 631.6,73.3 632.6,73.3 633.6,73.3 634.6,73.3 635.6,73.2 636.6,73.2 637.6,73.2 638.6,73.2 639.6,73.2 640.6,73.2 641.6,73.2 642.6,73.2 643.6,73.2 644.6,73.1 645.6,73.1 646.6,73.1 647.6,73.1 648.6,73.1 649.6,73.1 650.6,73.1 651.6,73.1 652.6,73.0 653.6,73.0 654.6,73.0 655.6,73.0 656.6,73.0 657.6,73.0 658.6,73.0 659.6,72.9 660.6,72.9 661.6,72.9 662.6,72.9 663.6,72.9 664.6,72.9 665.6,72.8 666.6,72.8 667.6,72.8 668.6,72.8 669.6,72.8 670.6,72.8 671.6,72.7 672.6,72.7 673.6,72.7 674.6,72.7 675.6,72.7 676.6,72.7 677.6,72.6 678.6,72.6 679.6,72.6 680.6,72.6 681.6,72.6 682.6,72.6 683.6,72.6 684.6,72.5 685.6,72.5 686.6,72.5 687.6,72.5 688.6,72.5 689.6,72.5 690.6,72.4 691.6,72.4 692.6,72.4 693.6,72.4 694.6,72.4 695.6,72.4 696.6,72.3 697.6,72.3 698.6,72.3 699.6,72.3 700.6,72.3 701.6,72.3 702.6,72.3 703.6,72.3 704.6,72.2 705.6,72.2 706.6,72.2 707.6,72.2 708.6,72.2 709.6,72.2 710.6,72.2 711.6,72.2 712.6,72.1 713.6,72.1 714.6,72.1 715.6,72.1 716.6,72.1 717.6,72.1 718.6,72.1 719.6,72.1 720.6,72.1 721.6,72.1 722.6,72.0 723.6,72.0 724.6,72.0 725.6,72.0 726.6,72.0 727.6,72.0 728.6,72.0 729.6,72.0 730.6,72.0 731.6,72.0 732.6,72.0 733.6,72.0 734.6,72.0 735.6,72.0 736.6,72.0 737.6,72.0 738.6,72.0 739.6,72.0 740.6,72.0 741.6,72.0 742.6,72.0 743.6,72.0 744.6,72.0 745.6,72.0 746.6,72.0 747.6,72.0 748.6,72.0 749.6,72.0" fill="none" stroke="#29336f" stroke-width="3.8" stroke-linejoin="round"/>
<polyline points="470.2,262.0 470.4,261.0 470.5,260.0 470.7,259.1 470.9,258.1 471.0,257.1 471.2,256.1 471.3,255.1 471.5,254.1 471.6,253.1 471.8,252.1 471.9,251.2 472.0,250.2 472.2,249.2 472.3,248.2 472.4,247.2 472.6,246.2 472.7,245.2 472.9,244.2 473.0,243.2 473.2,242.2 473.3,241.2 473.5,240.2 473.6,239.3 473.8,238.3 473.9,237.3 474.1,236.3 474.3,235.3 474.5,234.3 474.7,233.3 474.9,232.4 475.1,231.4 475.3,230.4 475.5,229.4 475.7,228.5 476.0,227.5 476.2,226.5 476.5,225.6 476.7,224.6 477.0,223.6 477.3,222.7 477.5,221.7 477.8,220.7 478.1,219.8 478.3,218.8 478.6,217.8 478.8,216.9 479.1,215.9 479.4,214.9 479.6,214.0 479.9,213.0 480.1,212.0 480.4,211.1 480.6,210.1 480.9,209.1 481.1,208.1 481.4,207.2 481.6,206.2 481.9,205.2 482.2,204.3 482.5,203.3 482.7,202.4 483.0,201.4 483.3,200.5 483.6,199.5 484.0,198.6 484.3,197.6 484.6,196.7 485.0,195.7 485.3,194.8 485.7,193.9 486.1,193.0 486.5,192.0 486.9,191.1 487.3,190.2 487.7,189.3 488.1,188.4 488.6,187.5 489.0,186.6 489.4,185.7 489.9,184.8 490.4,183.9 490.8,183.0 491.3,182.2 491.8,181.3 492.3,180.4 492.8,179.5 493.3,178.6 493.8,177.8 494.3,176.9 494.8,176.0 495.3,175.2 495.8,174.3 496.3,173.5 496.8,172.6 497.4,171.8 497.9,170.9 498.4,170.1 499.0,169.2 499.5,168.4 500.1,167.5 500.6,166.7 501.2,165.9 501.7,165.0 502.3,164.2 502.9,163.4 503.5,162.6 504.0,161.8 504.6,161.0 505.2,160.2 505.8,159.4 506.4,158.6 507.1,157.8 507.7,157.0 508.3,156.2 508.9,155.5 509.6,154.7 510.2,153.9 510.8,153.1 511.5,152.4 512.1,151.6 512.8,150.8 513.4,150.1 514.0,149.3 514.7,148.5 515.3,147.8 516.0,147.0 516.6,146.2 517.2,145.4 517.9,144.7 518.5,143.9 519.1,143.1 519.7,142.3 520.4,141.5 521.0,140.8 521.6,140.0 522.2,139.2 522.9,138.4 523.5,137.6 524.1,136.9 524.8,136.1 525.4,135.3 526.0,134.5 526.7,133.8 527.3,133.0 528.0,132.3 528.6,131.5 529.3,130.8 530.0,130.0 530.7,129.3 531.3,128.6 532.0,127.9 532.7,127.2 533.5,126.5 534.2,125.8 534.9,125.1 535.6,124.4 536.4,123.7 537.1,123.1 537.9,122.4 538.6,121.7 539.4,121.1 540.1,120.4 540.9,119.8 541.7,119.2 542.5,118.5 543.3,117.9 544.0,117.3 544.8,116.7 545.6,116.1 546.4,115.5 547.2,114.9 548.1,114.3 548.9,113.7 549.7,113.1 550.5,112.5 551.3,111.9 552.1,111.3 553.0,110.8 553.8,110.2 554.6,109.6 555.4,109.1 556.3,108.5 557.1,108.0 558.0,107.4 558.8,106.9 559.7,106.4 560.5,105.8 561.4,105.3 562.2,104.8 563.1,104.3 564.0,103.8 564.9,103.3 565.7,102.9 566.6,102.4 567.5,101.9 568.4,101.5 569.3,101.1 570.2,100.6 571.1,100.2 572.0,99.8 572.9,99.4 573.8,99.0 574.8,98.6 575.7,98.2 576.6,97.8 577.5,97.5 578.5,97.1 579.4,96.8 580.3,96.4 581.3,96.1 582.2,95.7 583.2,95.4 584.1,95.1 585.1,94.8 586.0,94.4 587.0,94.1 587.9,93.8 588.9,93.5 589.8,93.2 590.8,92.9 591.8,92.6 592.7,92.3 593.7,92.0 594.6,91.7 595.6,91.5 596.6,91.2 597.5,90.9 598.5,90.6 599.4,90.4 600.4,90.1 601.4,89.9 602.3,89.6 603.3,89.4 604.3,89.1 605.2,88.9 606.2,88.6 607.2,88.4 608.2,88.2 609.1,87.9 610.1,87.7 611.1,87.5 612.1,87.3 613.0,87.1 614.0,86.9 615.0,86.7 616.0,86.5 616.9,86.3 617.9,86.1 618.9,85.9 619.9,85.7 620.9,85.5 621.8,85.3 622.8,85.1 623.8,84.9 624.8,84.7 625.8,84.5 626.8,84.3 627.7,84.1 628.7,83.9 629.7,83.7 630.7,83.5 631.7,83.2 632.6,83.0 633.6,82.8 634.6,82.6 635.6,82.4 636.5,82.2 637.5,82.0 638.5,81.8 639.5,81.6 640.5,81.4 641.4,81.2 642.4,81.0 643.4,80.8 644.4,80.7 645.4,80.5 646.4,80.3 647.4,80.2 648.3,80.1 649.3,79.9 650.3,79.8 651.3,79.7 652.3,79.6 653.3,79.5 654.3,79.4 655.3,79.3 656.3,79.2 657.3,79.1 658.3,79.1 659.3,79.0 660.3,78.9 661.3,78.9 662.3,78.8 663.3,78.7 664.3,78.7 665.3,78.6 666.3,78.6 667.3,78.5 668.3,78.4 669.3,78.4 670.3,78.3 671.3,78.2 672.3,78.2 673.3,78.1 674.3,78.0 675.3,78.0 676.3,77.9 677.3,77.8 678.3,77.7 679.3,77.7 680.3,77.6 681.3,77.5 682.3,77.4 683.3,77.4 684.2,77.3 685.2,77.2 686.2,77.1 687.2,77.0 688.2,76.9 689.2,76.9 690.2,76.8 691.2,76.7 692.2,76.6 693.2,76.6 694.2,76.5 695.2,76.4 696.2,76.3 697.2,76.3 698.2,76.2 699.2,76.1 700.2,76.1 701.2,76.0 702.2,76.0 703.2,75.9 704.2,75.9 705.2,75.8 706.2,75.8 707.2,75.7 708.2,75.7 709.2,75.7 710.2,75.6 711.2,75.6 712.2,75.6 713.2,75.5 714.2,75.5 715.2,75.5 716.2,75.5 717.2,75.4 718.2,75.4 719.2,75.4 720.2,75.4 721.2,75.4 722.2,75.3 723.2,75.3 724.2,75.3 725.2,75.3 726.2,75.3 727.2,75.3 728.2,75.3 729.2,75.2 730.2,75.2 731.2,75.2 732.2,75.2 733.2,75.2 734.2,75.2 735.2,75.2 736.2,75.2 737.2,75.1 738.2,75.1 739.2,75.1 740.2,75.1 741.2,75.1 742.2,75.1 743.2,75.1 744.2,75.0 745.2,75.0 746.2,75.0 747.2,75.0 748.2,75.0 749.2,74.9 750.2,74.9" fill="none" stroke="#000" stroke-width="3.4" stroke-linejoin="round"/>
<line x1="516.3" y1="252.4" x2="581.4" y2="252.4" stroke="#000" stroke-width="2"/>
<text x="548.7" y="247.7" font-size="19.5" text-anchor="middle" font-family="Liberation Sans, sans-serif">1s</text>
<line x1="651.2" y1="156" x2="675.8" y2="156" stroke="#000" stroke-width="1.7"/>
<text x="678.5" y="163.1" font-size="20" font-family="Liberation Sans, sans-serif">WT</text>
<line x1="651.2" y1="184.1" x2="675.8" y2="184.1" stroke="#5a6499" stroke-width="2.1"/>
<text x="679.9" y="191.8" font-size="20.8" fill="#4d5c9e" font-family="Liberation Sans, sans-serif">IS4N+R276</text>
</svg>
</body></html>
